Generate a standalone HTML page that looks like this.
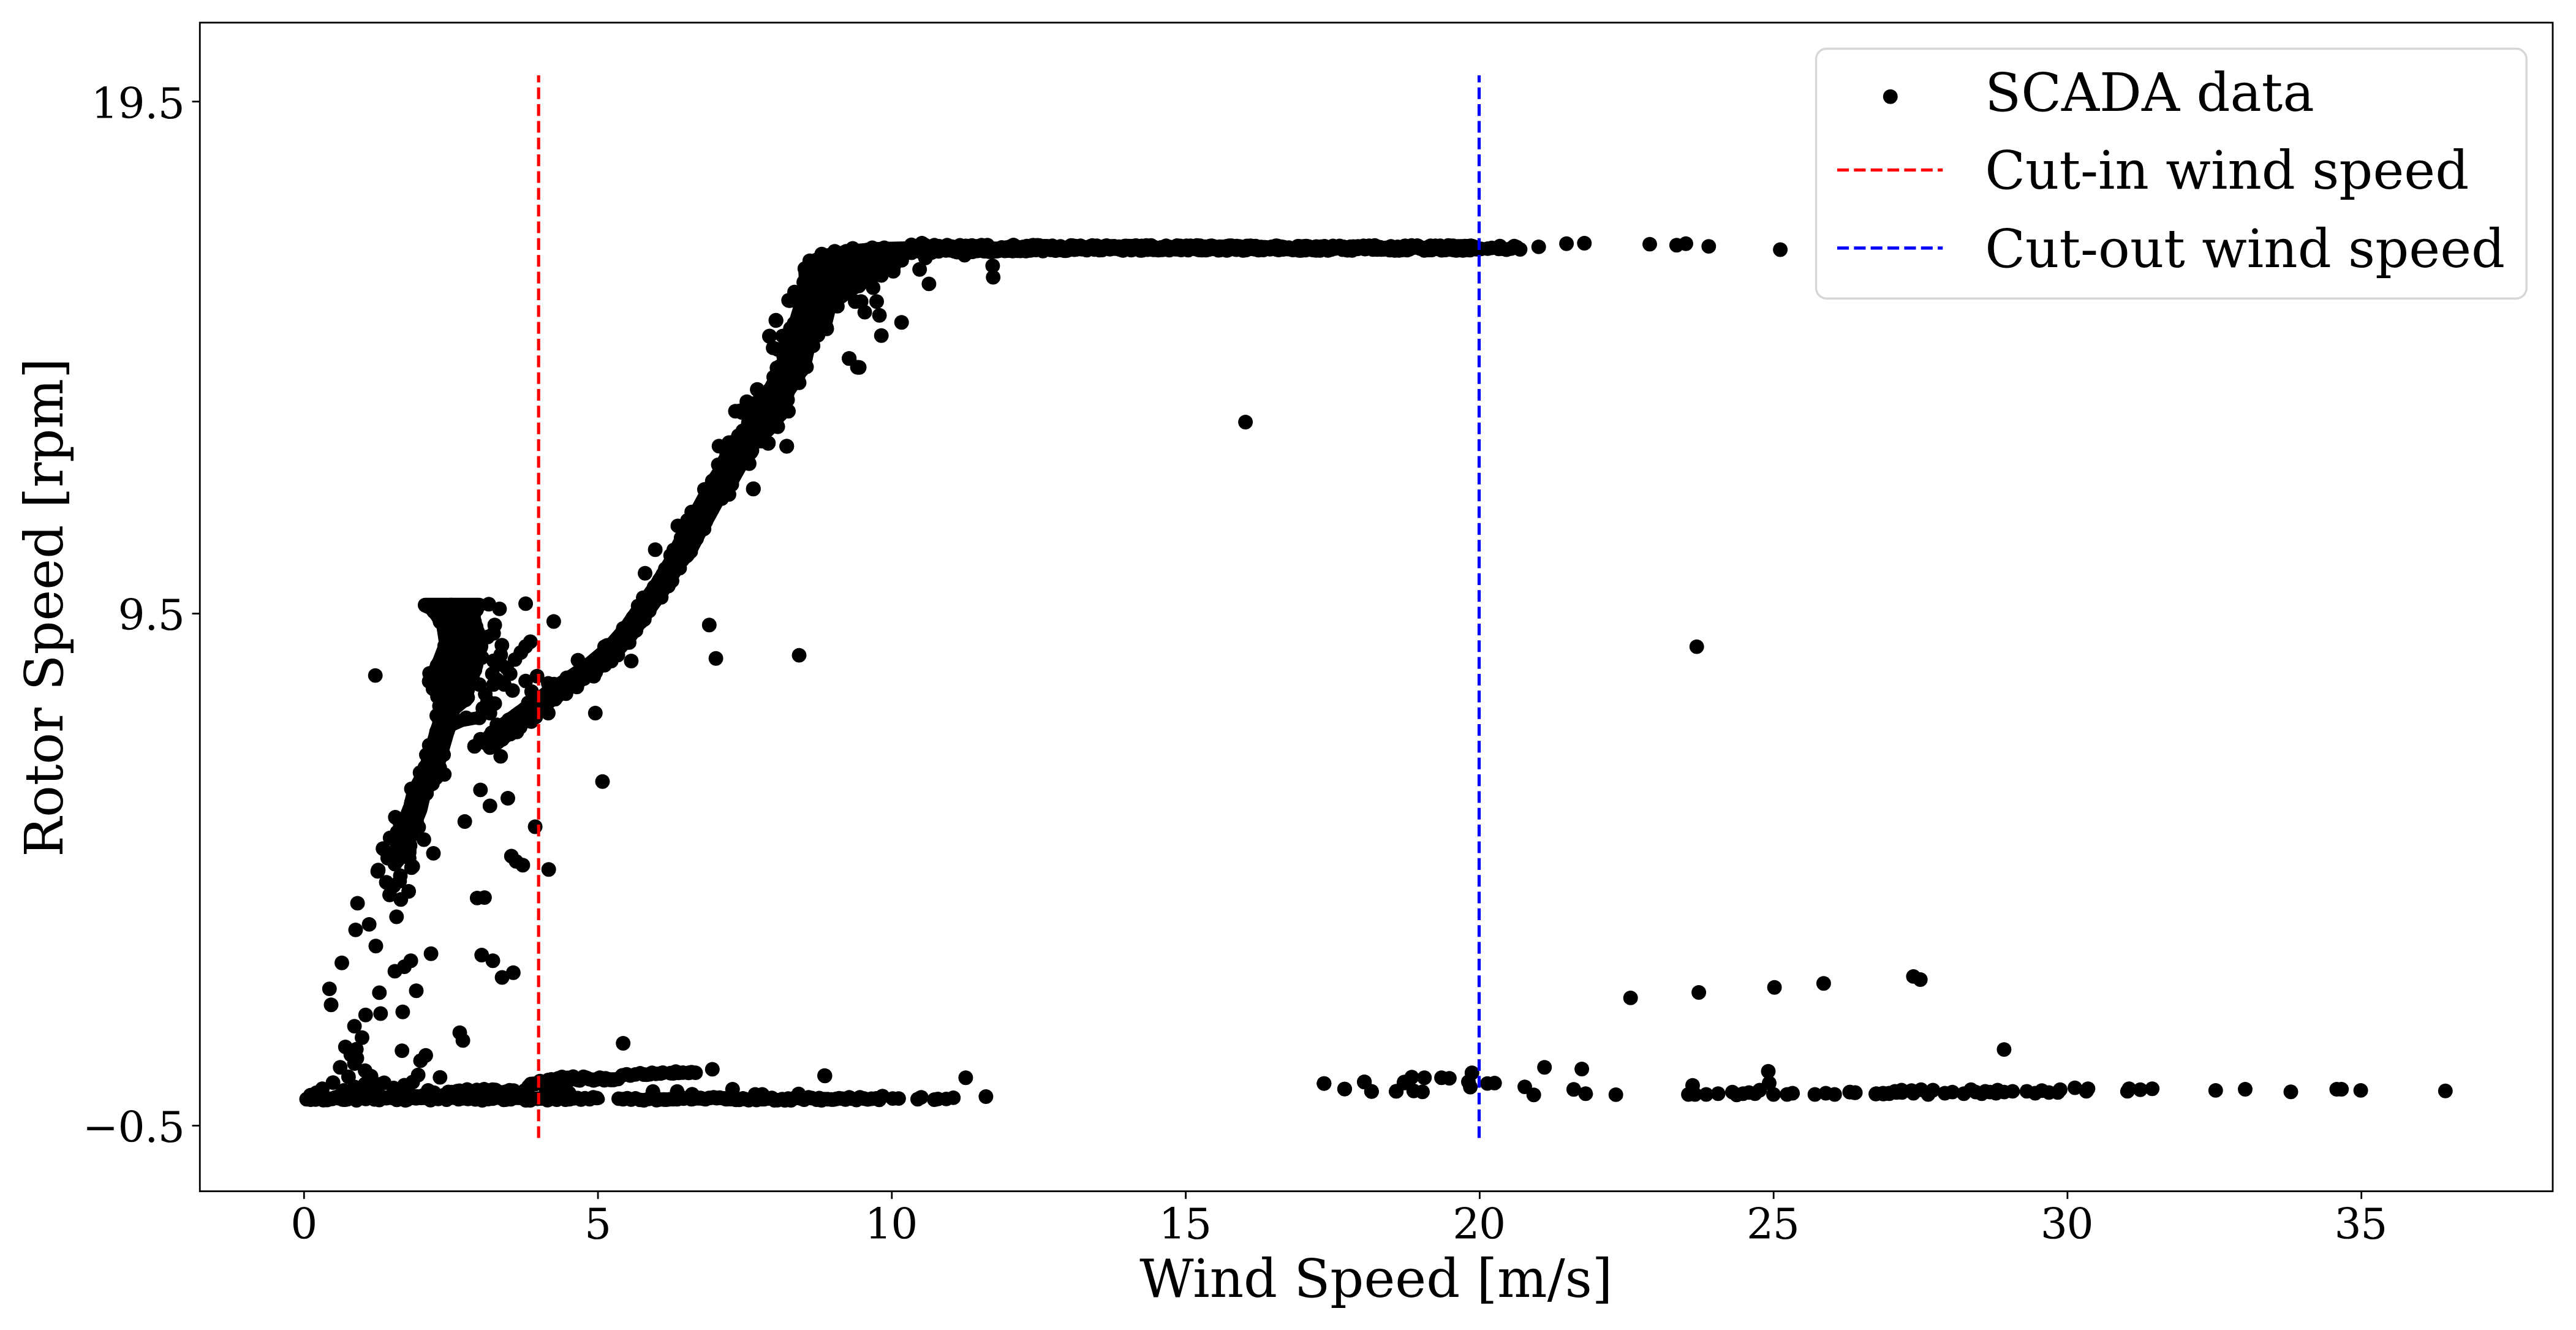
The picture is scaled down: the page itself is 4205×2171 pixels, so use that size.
<!DOCTYPE html>
<html><head><meta charset="utf-8"><title>Rotor speed vs wind speed</title>
<style>html,body{margin:0;padding:0;background:#fff}svg{display:block}text{font-family:"DejaVu Serif","Liberation Serif",serif;fill:#000}</style></head>
<body>
<svg width="4205" height="2171" viewBox="0 0 4205 2171">
<rect width="4205" height="2171" fill="#fff"/>
<g fill="#000" stroke="#000" stroke-linejoin="round" stroke-linecap="round">
<path d="M688.0 982.3 L784.3 982.3 L785.1 1016.5 L791.3 1028.1 L796.0 1055.3 L788.2 1090.2 L778.5 1117.4 L768.8 1148.4 L745.5 1167.9 L712.5 1181.4 L708.6 1148.4 L695.0 1117.4 L691.9 1105.7 L706.7 1074.7 L716.4 1049.5 L712.5 1024.2 L700.9 1006.8 L685.3 991.2Z" stroke="none"/>
<path d="M693.9 987.7 L782.4 987.7" fill="none" stroke-width="23.9"/>
<path d="M730.7 1167.9 L721.4 1195.0 L712.5 1226.1 L702.0 1261.0 L683.4 1296.0 L678.0 1319.3 L668.6 1342.5 L657.0 1377.5" fill="none" stroke-width="40.0"/>
<path d="M733.9 1185.3 L753.3 1176.4 L782.4 1171.0" fill="none" stroke-width="21.0"/>
<path d="M805.7 1206.7 L827.0 1189.2 L850.3 1171.7 L875.5 1154.3" fill="none" stroke-width="40.0"/>
<path d="M875.5 1154.3 L900.8 1132.9 L928.0 1115.5 L962.9 1092.2 L997.8 1063.0 L1025.0 1032.0 L1052.2 993.2 L1077.4 958.2 L1098.8 923.3 L1112.3 900.0" fill="none" stroke-width="37.0"/>
<path d="M1114.3 899.9 L1132.1 865.4 L1149.6 834.3 L1172.9 791.6 L1202.0 747.0 L1231.9 698.4 L1257.9 655.7 L1279.3 616.9 L1296.0 578.1 L1308.4 547.0" fill="none" stroke-width="44.0"/>
<path d="M1213.6 692.1 L1235.7 655.2 L1260.2 622.2 L1273.8 571.7 L1286.2 529.0 L1297.8 490.2 L1304.0 461.1 L1303.3 444.4 L1313.7 427.3 L1326.6 414.1 L1349.1 405.6 L1386.3 399.0 L1432.9 395.1 L1510.6 393.2 L1510.6 418.8 L1479.5 423.4 L1467.9 436.6 L1440.7 449.5 L1423.2 465.0 L1394.1 483.2 L1376.6 496.0 L1363.0 511.6 L1357.2 534.9 L1345.6 546.5 L1330.0 571.7 L1324.2 597.0 L1312.6 620.3 L1297.0 643.6 L1291.2 666.8 L1273.8 697.9 L1238.8 732.8 L1219.4 763.9 L1200.0 798.8 L1176.7 815.9 L1153.4 815.9 L1176.7 742.5Z" stroke="none"/>
<path d="M1510.0 404.8 L2400.0 404.8" fill="none" stroke-width="21.0"/>
<path d="M2400.0 404.8 L2470.0 406.0" fill="none" stroke-width="19.0"/>
<path d="M502.0 1793.9 L978.0 1793.9" fill="none" stroke-width="19.0"/>
<path d="M1012.0 1793.9 L1436.0 1793.9" fill="none" stroke-width="19.0"/>
<path d="M730.0 1781.8 L788.2 1779.5 L842.5 1781.8" fill="none" stroke-width="17.0"/>
<path d="M547.5 1788.8 L730.0 1788.8" fill="none" stroke-width="17.0"/>
<path d="M854.2 1778.7 L877.5 1766.3 L920.2 1760.5 L1009.5 1759.7" fill="none" stroke-width="19.0"/>
<path d="M1009.5 1757.8 L1021.1 1755.4 L1087.1 1750.0 L1137.6 1751.6" fill="none" stroke-width="17.0"/>
</g>
<g fill="#000">
<circle cx="612.7" cy="1102.6" r="11.95"/><circle cx="858.1" cy="985.4" r="11.95"/><circle cx="903.9" cy="1014.5" r="11.95"/><circle cx="1157.8" cy="1020.3" r="11.95"/><circle cx="1168.6" cy="1074.7" r="11.95"/><circle cx="1304.5" cy="1069.6" r="11.95"/><circle cx="1030.4" cy="1079.0" r="11.95"/><circle cx="971.8" cy="1164.0" r="11.95"/><circle cx="983.5" cy="1275.8" r="11.95"/><circle cx="817.3" cy="1234.6" r="11.95"/><circle cx="784.3" cy="1289.4" r="11.95"/><circle cx="829.0" cy="1303.0" r="11.95"/><circle cx="799.8" cy="1315.4" r="11.95"/><circle cx="758.7" cy="1341.0" r="11.95"/><circle cx="873.6" cy="1349.5" r="11.95"/><circle cx="1053.0" cy="935.7" r="11.95"/><circle cx="645.3" cy="1334.0" r="11.95"/><circle cx="683.4" cy="1350.3" r="11.95"/><circle cx="691.9" cy="1370.5" r="11.95"/><circle cx="725.3" cy="1264.1" r="11.95"/><circle cx="724.1" cy="1231.9" r="11.95"/><circle cx="943.5" cy="1077.8" r="11.95"/><circle cx="895.0" cy="1164.0" r="11.95"/><circle cx="895.0" cy="1115.5" r="11.95"/><circle cx="625.2" cy="1385.2" r="11.95"/><circle cx="636.8" cy="1367.8" r="11.95"/><circle cx="648.4" cy="1358.1" r="11.95"/><circle cx="658.2" cy="1375.5" r="11.95"/><circle cx="667.9" cy="1387.2" r="11.95"/><circle cx="640.7" cy="1393.0" r="11.95"/><circle cx="652.3" cy="1400.8" r="11.95"/><circle cx="667.9" cy="1400.8" r="11.95"/><circle cx="673.7" cy="1414.4" r="11.95"/><circle cx="644.6" cy="1410.5" r="11.95"/><circle cx="632.9" cy="1400.8" r="11.95"/><circle cx="656.2" cy="1362.0" r="11.95"/><circle cx="648.4" cy="1381.4" r="11.95"/><circle cx="617.4" cy="1420.2" r="11.95"/><circle cx="797.9" cy="986.2" r="11.95"/><circle cx="815.4" cy="993.9" r="11.95"/><circle cx="807.6" cy="1020.3" r="11.95"/><circle cx="805.7" cy="1033.9" r="11.95"/><circle cx="796.0" cy="1039.8" r="11.95"/><circle cx="819.3" cy="1053.3" r="11.95"/><circle cx="817.3" cy="1068.9" r="11.95"/><circle cx="805.7" cy="1078.6" r="11.95"/><circle cx="803.7" cy="1099.9" r="11.95"/><circle cx="832.8" cy="1099.9" r="11.95"/><circle cx="805.7" cy="1117.4" r="11.95"/><circle cx="823.1" cy="1117.4" r="11.95"/><circle cx="836.7" cy="1127.1" r="11.95"/><circle cx="850.3" cy="1065.0" r="11.95"/><circle cx="840.6" cy="1076.6" r="11.95"/><circle cx="827.0" cy="1090.2" r="11.95"/><circle cx="865.8" cy="1047.5" r="11.95"/><circle cx="858.1" cy="1111.6" r="11.95"/><circle cx="876.7" cy="1103.8" r="11.95"/><circle cx="867.8" cy="1129.0" r="11.95"/><circle cx="807.6" cy="1148.4" r="11.95"/><circle cx="796.0" cy="1144.6" r="11.95"/><circle cx="799.8" cy="1164.0" r="11.95"/><circle cx="782.4" cy="1171.7" r="11.95"/><circle cx="761.0" cy="1171.7" r="11.95"/><circle cx="745.5" cy="1177.6" r="11.95"/><circle cx="782.4" cy="1117.4" r="11.95"/><circle cx="792.1" cy="1132.9" r="11.95"/><circle cx="788.2" cy="1156.2" r="11.95"/><circle cx="817.3" cy="1084.4" r="11.95"/><circle cx="811.5" cy="1109.6" r="11.95"/><circle cx="858.1" cy="1055.3" r="11.95"/><circle cx="774.6" cy="1218.3" r="11.95"/><circle cx="784.3" cy="1206.7" r="11.95"/><circle cx="799.8" cy="1220.3" r="11.95"/><circle cx="792.1" cy="1212.5" r="11.95"/><circle cx="698.1" cy="989.8" r="11.95"/><circle cx="707.6" cy="993.7" r="11.95"/><circle cx="716.8" cy="989.0" r="11.95"/><circle cx="736.3" cy="987.7" r="11.95"/><circle cx="751.7" cy="992.9" r="11.95"/><circle cx="764.2" cy="988.8" r="11.95"/><circle cx="777.8" cy="995.6" r="11.95"/><circle cx="773.0" cy="990.5" r="11.95"/><circle cx="774.6" cy="1014.6" r="11.95"/><circle cx="777.3" cy="1023.1" r="11.95"/><circle cx="779.3" cy="1037.2" r="11.95"/><circle cx="785.2" cy="1055.1" r="11.95"/><circle cx="784.4" cy="1057.1" r="11.95"/><circle cx="786.7" cy="1073.2" r="11.95"/><circle cx="775.2" cy="1093.8" r="11.95"/><circle cx="765.6" cy="1111.2" r="11.95"/><circle cx="766.9" cy="1117.4" r="11.95"/><circle cx="763.4" cy="1138.6" r="11.95"/><circle cx="759.9" cy="1142.5" r="11.95"/><circle cx="738.9" cy="1154.9" r="11.95"/><circle cx="733.0" cy="1160.3" r="11.95"/><circle cx="713.0" cy="1168.2" r="11.95"/><circle cx="717.1" cy="1175.5" r="11.95"/><circle cx="717.4" cy="1152.5" r="11.95"/><circle cx="714.1" cy="1137.0" r="11.95"/><circle cx="706.9" cy="1124.4" r="11.95"/><circle cx="700.6" cy="1112.2" r="11.95"/><circle cx="701.2" cy="1099.1" r="11.95"/><circle cx="713.6" cy="1086.1" r="11.95"/><circle cx="721.0" cy="1078.2" r="11.95"/><circle cx="725.9" cy="1054.3" r="11.95"/><circle cx="728.1" cy="1041.0" r="11.95"/><circle cx="718.3" cy="1015.0" r="11.95"/><circle cx="708.2" cy="998.2" r="11.95"/><circle cx="695.1" cy="988.1" r="11.95"/><circle cx="722.2" cy="1173.4" r="11.95"/><circle cx="716.5" cy="1187.9" r="11.95"/><circle cx="712.6" cy="1194.5" r="11.95"/><circle cx="700.7" cy="1216.4" r="11.95"/><circle cx="696.0" cy="1232.1" r="11.95"/><circle cx="693.8" cy="1252.2" r="11.95"/><circle cx="685.7" cy="1261.3" r="11.95"/><circle cx="689.1" cy="1271.7" r="11.95"/><circle cx="671.5" cy="1287.8" r="11.95"/><circle cx="671.6" cy="1310.3" r="11.95"/><circle cx="660.3" cy="1337.8" r="11.95"/><circle cx="653.0" cy="1343.4" r="11.95"/><circle cx="648.8" cy="1373.9" r="11.95"/><circle cx="743.1" cy="1176.2" r="11.95"/><circle cx="729.9" cy="1193.9" r="11.95"/><circle cx="724.5" cy="1208.6" r="11.95"/><circle cx="719.0" cy="1225.7" r="11.95"/><circle cx="717.7" cy="1235.4" r="11.95"/><circle cx="717.7" cy="1253.3" r="11.95"/><circle cx="711.8" cy="1269.8" r="11.95"/><circle cx="705.9" cy="1279.2" r="11.95"/><circle cx="696.2" cy="1295.3" r="11.95"/><circle cx="689.1" cy="1302.8" r="11.95"/><circle cx="680.3" cy="1342.9" r="11.95"/><circle cx="676.9" cy="1349.6" r="11.95"/><circle cx="669.4" cy="1380.2" r="11.95"/><circle cx="820.0" cy="1206.8" r="11.95"/><circle cx="833.0" cy="1198.2" r="11.95"/><circle cx="843.7" cy="1194.7" r="11.95"/><circle cx="849.1" cy="1187.0" r="11.95"/><circle cx="867.3" cy="1177.8" r="11.95"/><circle cx="874.5" cy="1170.3" r="11.95"/><circle cx="802.9" cy="1196.0" r="11.95"/><circle cx="811.1" cy="1183.2" r="11.95"/><circle cx="830.5" cy="1175.0" r="11.95"/><circle cx="842.5" cy="1168.2" r="11.95"/><circle cx="856.3" cy="1157.4" r="11.95"/><circle cx="862.5" cy="1147.3" r="11.95"/><circle cx="879.9" cy="1158.3" r="11.95"/><circle cx="906.1" cy="1141.2" r="11.95"/><circle cx="909.9" cy="1136.4" r="11.95"/><circle cx="923.8" cy="1132.4" r="11.95"/><circle cx="941.6" cy="1121.3" r="11.95"/><circle cx="953.5" cy="1107.5" r="11.95"/><circle cx="969.3" cy="1103.9" r="11.95"/><circle cx="972.4" cy="1097.3" r="11.95"/><circle cx="986.9" cy="1085.9" r="11.95"/><circle cx="997.8" cy="1079.1" r="11.95"/><circle cx="1008.5" cy="1069.3" r="11.95"/><circle cx="1016.8" cy="1051.4" r="11.95"/><circle cx="1027.0" cy="1048.9" r="11.95"/><circle cx="1038.2" cy="1029.1" r="11.95"/><circle cx="1046.3" cy="1015.1" r="11.95"/><circle cx="1051.8" cy="1011.1" r="11.95"/><circle cx="1059.9" cy="997.0" r="11.95"/><circle cx="1070.3" cy="979.1" r="11.95"/><circle cx="1079.4" cy="975.1" r="11.95"/><circle cx="1091.0" cy="956.5" r="11.95"/><circle cx="1097.0" cy="948.1" r="11.95"/><circle cx="1103.2" cy="929.8" r="11.95"/><circle cx="1109.4" cy="927.4" r="11.95"/><circle cx="1113.9" cy="914.1" r="11.95"/><circle cx="880.5" cy="1140.1" r="11.95"/><circle cx="894.5" cy="1129.6" r="11.95"/><circle cx="904.5" cy="1116.7" r="11.95"/><circle cx="921.8" cy="1113.8" r="11.95"/><circle cx="925.2" cy="1106.4" r="11.95"/><circle cx="947.1" cy="1095.5" r="11.95"/><circle cx="958.2" cy="1088.9" r="11.95"/><circle cx="960.2" cy="1085.3" r="11.95"/><circle cx="980.9" cy="1069.5" r="11.95"/><circle cx="986.9" cy="1055.8" r="11.95"/><circle cx="991.1" cy="1053.5" r="11.95"/><circle cx="1003.2" cy="1048.0" r="11.95"/><circle cx="1017.4" cy="1025.6" r="11.95"/><circle cx="1024.0" cy="1022.5" r="11.95"/><circle cx="1033.2" cy="1008.2" r="11.95"/><circle cx="1041.7" cy="989.1" r="11.95"/><circle cx="1050.0" cy="975.7" r="11.95"/><circle cx="1058.4" cy="973.6" r="11.95"/><circle cx="1067.8" cy="958.1" r="11.95"/><circle cx="1076.3" cy="946.9" r="11.95"/><circle cx="1082.3" cy="937.5" r="11.95"/><circle cx="1086.0" cy="928.8" r="11.95"/><circle cx="1094.7" cy="906.8" r="11.95"/><circle cx="1099.8" cy="897.8" r="11.95"/><circle cx="1127.4" cy="900.4" r="11.95"/><circle cx="1137.0" cy="879.4" r="11.95"/><circle cx="1148.2" cy="862.7" r="11.95"/><circle cx="1152.0" cy="851.8" r="11.95"/><circle cx="1160.1" cy="830.2" r="11.95"/><circle cx="1178.2" cy="813.8" r="11.95"/><circle cx="1174.1" cy="805.3" r="11.95"/><circle cx="1186.2" cy="800.0" r="11.95"/><circle cx="1194.9" cy="774.0" r="11.95"/><circle cx="1206.3" cy="756.2" r="11.95"/><circle cx="1212.1" cy="748.1" r="11.95"/><circle cx="1225.8" cy="738.3" r="11.95"/><circle cx="1223.5" cy="725.6" r="11.95"/><circle cx="1242.0" cy="714.8" r="11.95"/><circle cx="1245.8" cy="702.7" r="11.95"/><circle cx="1256.5" cy="692.1" r="11.95"/><circle cx="1260.8" cy="676.2" r="11.95"/><circle cx="1274.3" cy="647.9" r="11.95"/><circle cx="1277.4" cy="640.4" r="11.95"/><circle cx="1281.9" cy="627.9" r="11.95"/><circle cx="1297.9" cy="612.1" r="11.95"/><circle cx="1292.9" cy="604.8" r="11.95"/><circle cx="1300.7" cy="585.9" r="11.95"/><circle cx="1315.6" cy="572.3" r="11.95"/><circle cx="1312.3" cy="564.5" r="11.95"/><circle cx="1111.8" cy="878.2" r="11.95"/><circle cx="1117.2" cy="874.1" r="11.95"/><circle cx="1122.3" cy="849.5" r="11.95"/><circle cx="1129.1" cy="835.8" r="11.95"/><circle cx="1147.5" cy="823.5" r="11.95"/><circle cx="1149.9" cy="798.9" r="11.95"/><circle cx="1160.0" cy="800.2" r="11.95"/><circle cx="1162.8" cy="784.9" r="11.95"/><circle cx="1175.4" cy="759.5" r="11.95"/><circle cx="1183.2" cy="751.2" r="11.95"/><circle cx="1200.8" cy="732.9" r="11.95"/><circle cx="1204.0" cy="718.8" r="11.95"/><circle cx="1205.5" cy="711.1" r="11.95"/><circle cx="1219.2" cy="704.2" r="11.95"/><circle cx="1221.7" cy="689.7" r="11.95"/><circle cx="1228.3" cy="671.8" r="11.95"/><circle cx="1237.8" cy="655.3" r="11.95"/><circle cx="1257.6" cy="638.8" r="11.95"/><circle cx="1256.1" cy="636.7" r="11.95"/><circle cx="1263.0" cy="615.4" r="11.95"/><circle cx="1268.3" cy="600.5" r="11.95"/><circle cx="1274.8" cy="596.8" r="11.95"/><circle cx="1286.8" cy="577.6" r="11.95"/><circle cx="1293.2" cy="560.7" r="11.95"/><circle cx="1294.8" cy="549.4" r="11.95"/><circle cx="1266.5" cy="522.6" r="11.95"/><circle cx="1256.0" cy="549.0" r="11.95"/><circle cx="1386.0" cy="585.1" r="11.95"/><circle cx="1399.6" cy="599.5" r="11.95"/><circle cx="1236.6" cy="636.3" r="11.95"/><circle cx="1200.5" cy="671.3" r="11.95"/><circle cx="1211.3" cy="673.2" r="11.95"/><circle cx="1284.3" cy="728.3" r="11.95"/><circle cx="1173.7" cy="728.3" r="11.95"/><circle cx="1190.0" cy="722.5" r="11.95"/><circle cx="1229.6" cy="798.2" r="11.95"/><circle cx="1069.6" cy="897.2" r="11.95"/><circle cx="1106.5" cy="858.4" r="11.95"/><circle cx="1172.5" cy="758.6" r="11.95"/><circle cx="1219.1" cy="655.7" r="11.95"/><circle cx="1289.0" cy="490.8" r="11.95"/><circle cx="1269.6" cy="570.3" r="11.95"/><circle cx="1304.5" cy="624.7" r="11.95"/><circle cx="1287.0" cy="671.3" r="11.95"/><circle cx="1269.6" cy="696.5" r="11.95"/><circle cx="1254.0" cy="723.7" r="11.95"/><circle cx="1223.0" cy="756.7" r="11.95"/><circle cx="1190.0" cy="807.1" r="11.95"/><circle cx="1149.2" cy="863.4" r="11.95"/><circle cx="1221.0" cy="695.0" r="11.95"/><circle cx="1235.2" cy="676.3" r="11.95"/><circle cx="1241.5" cy="668.8" r="11.95"/><circle cx="1248.2" cy="659.4" r="11.95"/><circle cx="1261.7" cy="634.4" r="11.95"/><circle cx="1267.6" cy="622.3" r="11.95"/><circle cx="1279.9" cy="592.5" r="11.95"/><circle cx="1279.3" cy="581.6" r="11.95"/><circle cx="1280.4" cy="569.9" r="11.95"/><circle cx="1285.7" cy="557.5" r="11.95"/><circle cx="1290.3" cy="536.2" r="11.95"/><circle cx="1296.3" cy="527.9" r="11.95"/><circle cx="1305.0" cy="495.5" r="11.95"/><circle cx="1309.7" cy="492.1" r="11.95"/><circle cx="1308.2" cy="476.4" r="11.95"/><circle cx="1312.0" cy="460.6" r="11.95"/><circle cx="1313.8" cy="438.5" r="11.95"/><circle cx="1321.8" cy="425.8" r="11.95"/><circle cx="1341.4" cy="414.8" r="11.95"/><circle cx="1362.6" cy="410.2" r="11.95"/><circle cx="1381.2" cy="410.1" r="11.95"/><circle cx="1391.9" cy="405.4" r="11.95"/><circle cx="1415.5" cy="408.3" r="11.95"/><circle cx="1423.9" cy="404.5" r="11.95"/><circle cx="1443.4" cy="404.4" r="11.95"/><circle cx="1459.2" cy="407.6" r="11.95"/><circle cx="1478.2" cy="407.0" r="11.95"/><circle cx="1487.8" cy="399.6" r="11.95"/><circle cx="1505.3" cy="399.9" r="11.95"/><circle cx="1504.9" cy="396.9" r="11.95"/><circle cx="1508.5" cy="406.3" r="11.95"/><circle cx="1488.1" cy="412.5" r="11.95"/><circle cx="1471.9" cy="424.9" r="11.95"/><circle cx="1458.9" cy="434.2" r="11.95"/><circle cx="1441.3" cy="442.1" r="11.95"/><circle cx="1422.4" cy="454.3" r="11.95"/><circle cx="1405.9" cy="459.7" r="11.95"/><circle cx="1401.8" cy="466.9" r="11.95"/><circle cx="1380.9" cy="476.4" r="11.95"/><circle cx="1358.9" cy="496.2" r="11.95"/><circle cx="1346.6" cy="524.2" r="11.95"/><circle cx="1348.7" cy="534.0" r="11.95"/><circle cx="1335.3" cy="547.1" r="11.95"/><circle cx="1327.2" cy="564.4" r="11.95"/><circle cx="1314.5" cy="585.6" r="11.95"/><circle cx="1309.0" cy="603.7" r="11.95"/><circle cx="1301.5" cy="624.3" r="11.95"/><circle cx="1285.6" cy="652.8" r="11.95"/><circle cx="1274.2" cy="676.2" r="11.95"/><circle cx="1270.3" cy="677.4" r="11.95"/><circle cx="1255.2" cy="698.8" r="11.95"/><circle cx="1243.2" cy="709.6" r="11.95"/><circle cx="1243.2" cy="720.1" r="11.95"/><circle cx="1227.4" cy="735.3" r="11.95"/><circle cx="1221.1" cy="744.4" r="11.95"/><circle cx="1206.5" cy="759.3" r="11.95"/><circle cx="1194.6" cy="790.7" r="11.95"/><circle cx="1185.9" cy="800.3" r="11.95"/><circle cx="1175.2" cy="805.8" r="11.95"/><circle cx="1169.9" cy="802.3" r="11.95"/><circle cx="1161.0" cy="816.7" r="11.95"/><circle cx="1169.4" cy="799.0" r="11.95"/><circle cx="1172.9" cy="776.8" r="11.95"/><circle cx="1174.9" cy="773.4" r="11.95"/><circle cx="1188.8" cy="746.5" r="11.95"/><circle cx="1186.2" cy="741.7" r="11.95"/><circle cx="1199.2" cy="720.5" r="11.95"/><circle cx="1210.0" cy="714.5" r="11.95"/><circle cx="1212.7" cy="703.3" r="11.95"/><circle cx="1266.8" cy="523.2" r="11.95"/><circle cx="1256.3" cy="548.4" r="11.95"/><circle cx="1287.3" cy="490.2" r="11.95"/><circle cx="1236.1" cy="635.8" r="11.95"/><circle cx="1227.2" cy="659.1" r="11.95"/><circle cx="1207.8" cy="670.7" r="11.95"/><circle cx="1284.2" cy="728.6" r="11.95"/><circle cx="1229.9" cy="797.7" r="11.95"/><circle cx="1386.3" cy="585.3" r="11.95"/><circle cx="1402.6" cy="599.7" r="11.95"/><circle cx="1438.7" cy="547.7" r="11.95"/><circle cx="1471.7" cy="526.3" r="11.95"/><circle cx="1435.6" cy="514.7" r="11.95"/><circle cx="1411.6" cy="509.6" r="11.95"/><circle cx="1431.0" cy="492.2" r="11.95"/><circle cx="1405.7" cy="492.2" r="11.95"/><circle cx="1396.0" cy="492.2" r="11.95"/><circle cx="1425.2" cy="469.6" r="11.95"/><circle cx="1501.2" cy="439.8" r="11.95"/><circle cx="1516.4" cy="463.4" r="11.95"/><circle cx="1620.4" cy="433.9" r="11.95"/><circle cx="1621.2" cy="452.6" r="11.95"/><circle cx="2033.1" cy="689.0" r="11.95"/><circle cx="1438.7" cy="449.5" r="11.95"/><circle cx="1458.2" cy="442.9" r="11.95"/><circle cx="1574.6" cy="416.5" r="11.95"/><circle cx="1510.6" cy="421.1" r="11.95"/><circle cx="1366.9" cy="499.9" r="11.95"/><circle cx="1297.0" cy="476.6" r="11.95"/><circle cx="1277.6" cy="548.4" r="11.95"/><circle cx="1262.1" cy="567.9" r="11.95"/><circle cx="1349.5" cy="536.8" r="11.95"/><circle cx="1316.5" cy="598.9" r="11.95"/><circle cx="1302.9" cy="622.2" r="11.95"/><circle cx="1254.3" cy="723.1" r="11.95"/><circle cx="1491.6" cy="406.6" r="11.95"/><circle cx="1493.9" cy="405.4" r="11.95"/><circle cx="1495.6" cy="407.0" r="11.95"/><circle cx="1496.7" cy="406.0" r="11.95"/><circle cx="1498.6" cy="409.7" r="11.95"/><circle cx="1499.5" cy="403.2" r="11.95"/><circle cx="1500.5" cy="409.9" r="11.95"/><circle cx="1502.5" cy="399.7" r="11.95"/><circle cx="1505.0" cy="412.0" r="11.95"/><circle cx="1506.9" cy="407.3" r="11.95"/><circle cx="1507.9" cy="399.3" r="11.95"/><circle cx="1509.6" cy="399.9" r="11.95"/><circle cx="1510.8" cy="402.4" r="11.95"/><circle cx="1511.6" cy="405.3" r="11.95"/><circle cx="1513.2" cy="410.3" r="11.95"/><circle cx="1514.8" cy="407.6" r="11.95"/><circle cx="1516.5" cy="407.9" r="11.95"/><circle cx="1518.1" cy="402.8" r="11.95"/><circle cx="1520.6" cy="412.2" r="11.95"/><circle cx="1522.8" cy="408.4" r="11.95"/><circle cx="1524.1" cy="402.2" r="11.95"/><circle cx="1525.4" cy="400.1" r="11.95"/><circle cx="1527.5" cy="404.4" r="11.95"/><circle cx="1529.8" cy="404.2" r="11.95"/><circle cx="1532.2" cy="410.2" r="11.95"/><circle cx="1533.0" cy="402.0" r="11.95"/><circle cx="1535.3" cy="405.3" r="11.95"/><circle cx="1537.8" cy="404.4" r="11.95"/><circle cx="1538.7" cy="407.3" r="11.95"/><circle cx="1540.8" cy="402.7" r="11.95"/><circle cx="1541.8" cy="403.5" r="11.95"/><circle cx="1544.2" cy="408.9" r="11.95"/><circle cx="1545.2" cy="402.4" r="11.95"/><circle cx="1546.2" cy="400.1" r="11.95"/><circle cx="1548.4" cy="401.6" r="11.95"/><circle cx="1550.1" cy="405.0" r="11.95"/><circle cx="1551.2" cy="408.5" r="11.95"/><circle cx="1552.3" cy="407.4" r="11.95"/><circle cx="1553.3" cy="404.6" r="11.95"/><circle cx="1554.4" cy="402.8" r="11.95"/><circle cx="1556.9" cy="409.4" r="11.95"/><circle cx="1558.2" cy="410.4" r="11.95"/><circle cx="1559.3" cy="404.3" r="11.95"/><circle cx="1561.6" cy="407.3" r="11.95"/><circle cx="1562.6" cy="411.6" r="11.95"/><circle cx="1563.7" cy="402.6" r="11.95"/><circle cx="1565.8" cy="403.5" r="11.95"/><circle cx="1567.1" cy="400.4" r="11.95"/><circle cx="1568.1" cy="406.6" r="11.95"/><circle cx="1569.3" cy="406.8" r="11.95"/><circle cx="1570.7" cy="405.0" r="11.95"/><circle cx="1573.2" cy="405.4" r="11.95"/><circle cx="1575.0" cy="410.0" r="11.95"/><circle cx="1576.1" cy="401.4" r="11.95"/><circle cx="1578.4" cy="409.4" r="11.95"/><circle cx="1579.6" cy="401.8" r="11.95"/><circle cx="1581.7" cy="410.8" r="11.95"/><circle cx="1582.8" cy="410.9" r="11.95"/><circle cx="1585.1" cy="406.8" r="11.95"/><circle cx="1586.6" cy="400.8" r="11.95"/><circle cx="1587.5" cy="411.0" r="11.95"/><circle cx="1588.7" cy="407.9" r="11.95"/><circle cx="1589.9" cy="409.3" r="11.95"/><circle cx="1591.8" cy="403.1" r="11.95"/><circle cx="1592.9" cy="408.1" r="11.95"/><circle cx="1593.8" cy="402.3" r="11.95"/><circle cx="1595.5" cy="409.6" r="11.95"/><circle cx="1597.4" cy="402.9" r="11.95"/><circle cx="1599.7" cy="402.0" r="11.95"/><circle cx="1600.6" cy="402.8" r="11.95"/><circle cx="1602.1" cy="400.3" r="11.95"/><circle cx="1603.2" cy="403.9" r="11.95"/><circle cx="1605.0" cy="401.2" r="11.95"/><circle cx="1606.4" cy="410.0" r="11.95"/><circle cx="1608.9" cy="407.2" r="11.95"/><circle cx="1610.8" cy="406.4" r="11.95"/><circle cx="1611.9" cy="400.1" r="11.95"/><circle cx="1612.7" cy="410.1" r="11.95"/><circle cx="1614.7" cy="410.7" r="11.95"/><circle cx="1615.5" cy="407.0" r="11.95"/><circle cx="1617.2" cy="408.0" r="11.95"/><circle cx="1618.5" cy="411.1" r="11.95"/><circle cx="1619.4" cy="405.9" r="11.95"/><circle cx="1621.5" cy="409.9" r="11.95"/><circle cx="1623.5" cy="407.7" r="11.95"/><circle cx="1625.7" cy="410.0" r="11.95"/><circle cx="1627.1" cy="407.4" r="11.95"/><circle cx="1629.4" cy="409.5" r="11.95"/><circle cx="1630.9" cy="408.6" r="11.95"/><circle cx="1633.2" cy="406.2" r="11.95"/><circle cx="1635.1" cy="404.0" r="11.95"/><circle cx="1636.8" cy="406.5" r="11.95"/><circle cx="1637.8" cy="406.9" r="11.95"/><circle cx="1640.3" cy="409.5" r="11.95"/><circle cx="1642.3" cy="404.1" r="11.95"/><circle cx="1644.4" cy="406.2" r="11.95"/><circle cx="1645.9" cy="409.0" r="11.95"/><circle cx="1646.9" cy="408.0" r="11.95"/><circle cx="1647.7" cy="406.4" r="11.95"/><circle cx="1649.3" cy="402.4" r="11.95"/><circle cx="1651.3" cy="405.3" r="11.95"/><circle cx="1653.2" cy="409.8" r="11.95"/><circle cx="1654.4" cy="400.0" r="11.95"/><circle cx="1655.7" cy="407.2" r="11.95"/><circle cx="1656.8" cy="401.7" r="11.95"/><circle cx="1659.2" cy="407.0" r="11.95"/><circle cx="1660.7" cy="409.4" r="11.95"/><circle cx="1662.1" cy="407.0" r="11.95"/><circle cx="1663.2" cy="404.5" r="11.95"/><circle cx="1665.4" cy="409.6" r="11.95"/><circle cx="1667.7" cy="404.0" r="11.95"/><circle cx="1669.5" cy="403.3" r="11.95"/><circle cx="1670.5" cy="405.2" r="11.95"/><circle cx="1672.7" cy="408.9" r="11.95"/><circle cx="1674.7" cy="409.9" r="11.95"/><circle cx="1676.0" cy="401.8" r="11.95"/><circle cx="1677.6" cy="402.9" r="11.95"/><circle cx="1678.7" cy="404.3" r="11.95"/><circle cx="1680.6" cy="405.1" r="11.95"/><circle cx="1681.9" cy="408.7" r="11.95"/><circle cx="1684.4" cy="404.7" r="11.95"/><circle cx="1685.3" cy="400.4" r="11.95"/><circle cx="1687.6" cy="400.5" r="11.95"/><circle cx="1689.6" cy="405.9" r="11.95"/><circle cx="1691.0" cy="408.1" r="11.95"/><circle cx="1691.8" cy="401.5" r="11.95"/><circle cx="1693.4" cy="400.4" r="11.95"/><circle cx="1695.6" cy="402.5" r="11.95"/><circle cx="1696.6" cy="400.6" r="11.95"/><circle cx="1698.5" cy="404.6" r="11.95"/><circle cx="1700.4" cy="406.7" r="11.95"/><circle cx="1702.5" cy="409.7" r="11.95"/><circle cx="1704.5" cy="402.2" r="11.95"/><circle cx="1706.1" cy="402.0" r="11.95"/><circle cx="1706.9" cy="404.8" r="11.95"/><circle cx="1708.9" cy="402.0" r="11.95"/><circle cx="1710.2" cy="403.6" r="11.95"/><circle cx="1712.2" cy="405.3" r="11.95"/><circle cx="1714.0" cy="407.6" r="11.95"/><circle cx="1715.5" cy="407.9" r="11.95"/><circle cx="1717.8" cy="401.1" r="11.95"/><circle cx="1720.2" cy="407.2" r="11.95"/><circle cx="1721.2" cy="404.6" r="11.95"/><circle cx="1723.1" cy="409.0" r="11.95"/><circle cx="1724.5" cy="405.7" r="11.95"/><circle cx="1726.8" cy="407.9" r="11.95"/><circle cx="1729.2" cy="404.7" r="11.95"/><circle cx="1731.2" cy="402.3" r="11.95"/><circle cx="1733.2" cy="408.0" r="11.95"/><circle cx="1735.1" cy="407.0" r="11.95"/><circle cx="1736.2" cy="408.7" r="11.95"/><circle cx="1738.7" cy="409.4" r="11.95"/><circle cx="1740.4" cy="407.7" r="11.95"/><circle cx="1741.8" cy="408.8" r="11.95"/><circle cx="1744.0" cy="403.6" r="11.95"/><circle cx="1745.0" cy="404.4" r="11.95"/><circle cx="1746.7" cy="407.4" r="11.95"/><circle cx="1748.3" cy="400.7" r="11.95"/><circle cx="1750.5" cy="401.0" r="11.95"/><circle cx="1752.7" cy="402.0" r="11.95"/><circle cx="1754.0" cy="407.5" r="11.95"/><circle cx="1755.1" cy="401.8" r="11.95"/><circle cx="1756.7" cy="406.9" r="11.95"/><circle cx="1759.0" cy="406.6" r="11.95"/><circle cx="1761.4" cy="404.9" r="11.95"/><circle cx="1763.8" cy="401.3" r="11.95"/><circle cx="1765.0" cy="405.2" r="11.95"/><circle cx="1766.3" cy="406.9" r="11.95"/><circle cx="1768.1" cy="405.1" r="11.95"/><circle cx="1770.4" cy="405.4" r="11.95"/><circle cx="1771.7" cy="403.9" r="11.95"/><circle cx="1773.9" cy="408.4" r="11.95"/><circle cx="1775.1" cy="407.9" r="11.95"/><circle cx="1777.5" cy="405.1" r="11.95"/><circle cx="1779.3" cy="402.3" r="11.95"/><circle cx="1781.0" cy="404.9" r="11.95"/><circle cx="1782.9" cy="400.8" r="11.95"/><circle cx="1785.3" cy="405.0" r="11.95"/><circle cx="1786.8" cy="407.4" r="11.95"/><circle cx="1788.5" cy="404.8" r="11.95"/><circle cx="1790.5" cy="401.2" r="11.95"/><circle cx="1792.2" cy="404.1" r="11.95"/><circle cx="1794.7" cy="408.3" r="11.95"/><circle cx="1795.9" cy="404.6" r="11.95"/><circle cx="1796.9" cy="404.3" r="11.95"/><circle cx="1799.1" cy="408.1" r="11.95"/><circle cx="1800.7" cy="403.3" r="11.95"/><circle cx="1801.9" cy="405.8" r="11.95"/><circle cx="1804.2" cy="401.8" r="11.95"/><circle cx="1806.4" cy="400.9" r="11.95"/><circle cx="1807.5" cy="402.6" r="11.95"/><circle cx="1809.5" cy="403.3" r="11.95"/><circle cx="1810.9" cy="405.8" r="11.95"/><circle cx="1811.8" cy="406.7" r="11.95"/><circle cx="1812.8" cy="404.9" r="11.95"/><circle cx="1814.1" cy="402.3" r="11.95"/><circle cx="1815.8" cy="404.3" r="11.95"/><circle cx="1817.2" cy="404.1" r="11.95"/><circle cx="1818.9" cy="402.0" r="11.95"/><circle cx="1820.1" cy="405.9" r="11.95"/><circle cx="1821.9" cy="405.0" r="11.95"/><circle cx="1824.2" cy="405.7" r="11.95"/><circle cx="1826.4" cy="402.6" r="11.95"/><circle cx="1828.5" cy="407.3" r="11.95"/><circle cx="1830.8" cy="403.3" r="11.95"/><circle cx="1832.2" cy="408.3" r="11.95"/><circle cx="1833.3" cy="408.9" r="11.95"/><circle cx="1835.7" cy="401.8" r="11.95"/><circle cx="1836.9" cy="406.7" r="11.95"/><circle cx="1838.1" cy="401.5" r="11.95"/><circle cx="1840.3" cy="404.2" r="11.95"/><circle cx="1842.5" cy="401.7" r="11.95"/><circle cx="1843.9" cy="406.3" r="11.95"/><circle cx="1844.8" cy="402.3" r="11.95"/><circle cx="1846.7" cy="408.2" r="11.95"/><circle cx="1849.2" cy="401.6" r="11.95"/><circle cx="1850.8" cy="406.9" r="11.95"/><circle cx="1852.5" cy="406.3" r="11.95"/><circle cx="1853.6" cy="401.3" r="11.95"/><circle cx="1854.6" cy="401.0" r="11.95"/><circle cx="1856.3" cy="404.9" r="11.95"/><circle cx="1858.1" cy="401.9" r="11.95"/><circle cx="1859.2" cy="402.4" r="11.95"/><circle cx="1861.4" cy="408.8" r="11.95"/><circle cx="1863.8" cy="401.5" r="11.95"/><circle cx="1864.7" cy="408.5" r="11.95"/><circle cx="1866.3" cy="407.0" r="11.95"/><circle cx="1867.7" cy="404.5" r="11.95"/><circle cx="1869.3" cy="404.2" r="11.95"/><circle cx="1871.2" cy="400.8" r="11.95"/><circle cx="1873.2" cy="407.6" r="11.95"/><circle cx="1874.3" cy="404.4" r="11.95"/><circle cx="1876.3" cy="404.0" r="11.95"/><circle cx="1877.5" cy="402.1" r="11.95"/><circle cx="1879.1" cy="400.8" r="11.95"/><circle cx="1881.4" cy="407.3" r="11.95"/><circle cx="1883.4" cy="407.8" r="11.95"/><circle cx="1885.3" cy="404.0" r="11.95"/><circle cx="1887.1" cy="404.8" r="11.95"/><circle cx="1889.6" cy="407.3" r="11.95"/><circle cx="1890.8" cy="408.2" r="11.95"/><circle cx="1892.9" cy="407.1" r="11.95"/><circle cx="1895.1" cy="404.0" r="11.95"/><circle cx="1897.4" cy="407.9" r="11.95"/><circle cx="1899.4" cy="407.0" r="11.95"/><circle cx="1901.5" cy="404.0" r="11.95"/><circle cx="1903.5" cy="401.3" r="11.95"/><circle cx="1904.9" cy="404.5" r="11.95"/><circle cx="1905.7" cy="403.6" r="11.95"/><circle cx="1907.6" cy="405.8" r="11.95"/><circle cx="1908.8" cy="408.4" r="11.95"/><circle cx="1910.7" cy="403.5" r="11.95"/><circle cx="1912.7" cy="405.4" r="11.95"/><circle cx="1914.4" cy="403.9" r="11.95"/><circle cx="1916.9" cy="406.0" r="11.95"/><circle cx="1918.9" cy="406.9" r="11.95"/><circle cx="1921.3" cy="400.9" r="11.95"/><circle cx="1923.2" cy="406.8" r="11.95"/><circle cx="1924.4" cy="404.0" r="11.95"/><circle cx="1925.3" cy="402.3" r="11.95"/><circle cx="1926.7" cy="401.5" r="11.95"/><circle cx="1928.0" cy="408.1" r="11.95"/><circle cx="1929.7" cy="404.9" r="11.95"/><circle cx="1932.1" cy="405.4" r="11.95"/><circle cx="1934.6" cy="405.9" r="11.95"/><circle cx="1936.8" cy="401.3" r="11.95"/><circle cx="1938.6" cy="406.9" r="11.95"/><circle cx="1939.5" cy="408.3" r="11.95"/><circle cx="1940.6" cy="404.6" r="11.95"/><circle cx="1941.7" cy="404.8" r="11.95"/><circle cx="1943.5" cy="401.2" r="11.95"/><circle cx="1945.9" cy="404.1" r="11.95"/><circle cx="1947.6" cy="405.6" r="11.95"/><circle cx="1949.0" cy="403.0" r="11.95"/><circle cx="1950.9" cy="405.3" r="11.95"/><circle cx="1952.2" cy="406.6" r="11.95"/><circle cx="1953.5" cy="400.8" r="11.95"/><circle cx="1954.7" cy="401.1" r="11.95"/><circle cx="1955.8" cy="406.9" r="11.95"/><circle cx="1957.3" cy="408.1" r="11.95"/><circle cx="1959.3" cy="401.1" r="11.95"/><circle cx="1961.8" cy="408.4" r="11.95"/><circle cx="1962.7" cy="408.1" r="11.95"/><circle cx="1964.3" cy="404.6" r="11.95"/><circle cx="1966.7" cy="402.7" r="11.95"/><circle cx="1968.4" cy="408.4" r="11.95"/><circle cx="1970.4" cy="404.5" r="11.95"/><circle cx="1972.9" cy="407.4" r="11.95"/><circle cx="1974.7" cy="401.6" r="11.95"/><circle cx="1976.6" cy="404.4" r="11.95"/><circle cx="1977.7" cy="401.1" r="11.95"/><circle cx="1979.4" cy="401.7" r="11.95"/><circle cx="1981.0" cy="406.2" r="11.95"/><circle cx="1982.6" cy="402.8" r="11.95"/><circle cx="1984.4" cy="404.1" r="11.95"/><circle cx="1986.5" cy="405.1" r="11.95"/><circle cx="1989.0" cy="408.5" r="11.95"/><circle cx="1991.0" cy="402.7" r="11.95"/><circle cx="1992.0" cy="408.0" r="11.95"/><circle cx="1994.2" cy="405.8" r="11.95"/><circle cx="1995.6" cy="402.9" r="11.95"/><circle cx="1997.5" cy="405.3" r="11.95"/><circle cx="1999.3" cy="405.9" r="11.95"/><circle cx="2001.4" cy="402.3" r="11.95"/><circle cx="2002.6" cy="408.7" r="11.95"/><circle cx="2005.0" cy="407.9" r="11.95"/><circle cx="2005.9" cy="401.2" r="11.95"/><circle cx="2007.1" cy="404.2" r="11.95"/><circle cx="2009.0" cy="401.5" r="11.95"/><circle cx="2010.7" cy="401.3" r="11.95"/><circle cx="2011.6" cy="406.2" r="11.95"/><circle cx="2013.4" cy="405.9" r="11.95"/><circle cx="2014.8" cy="404.6" r="11.95"/><circle cx="2016.0" cy="403.5" r="11.95"/><circle cx="2018.0" cy="407.6" r="11.95"/><circle cx="2019.0" cy="401.7" r="11.95"/><circle cx="2021.1" cy="405.8" r="11.95"/><circle cx="2023.3" cy="402.4" r="11.95"/><circle cx="2024.8" cy="402.8" r="11.95"/><circle cx="2026.9" cy="403.7" r="11.95"/><circle cx="2028.9" cy="408.8" r="11.95"/><circle cx="2030.2" cy="405.2" r="11.95"/><circle cx="2032.3" cy="408.3" r="11.95"/><circle cx="2033.8" cy="403.7" r="11.95"/><circle cx="2034.8" cy="407.9" r="11.95"/><circle cx="2035.7" cy="401.4" r="11.95"/><circle cx="2037.5" cy="404.7" r="11.95"/><circle cx="2039.4" cy="403.2" r="11.95"/><circle cx="2041.5" cy="401.3" r="11.95"/><circle cx="2042.7" cy="406.1" r="11.95"/><circle cx="2043.7" cy="403.2" r="11.95"/><circle cx="2045.7" cy="406.4" r="11.95"/><circle cx="2047.0" cy="401.9" r="11.95"/><circle cx="2048.4" cy="406.7" r="11.95"/><circle cx="2049.8" cy="401.7" r="11.95"/><circle cx="2051.8" cy="405.4" r="11.95"/><circle cx="2054.2" cy="408.4" r="11.95"/><circle cx="2056.5" cy="404.3" r="11.95"/><circle cx="2058.7" cy="403.2" r="11.95"/><circle cx="2060.0" cy="404.0" r="11.95"/><circle cx="2062.4" cy="408.0" r="11.95"/><circle cx="2063.6" cy="403.7" r="11.95"/><circle cx="2065.1" cy="403.7" r="11.95"/><circle cx="2066.5" cy="403.9" r="11.95"/><circle cx="2067.7" cy="405.3" r="11.95"/><circle cx="2069.8" cy="405.1" r="11.95"/><circle cx="2072.0" cy="405.3" r="11.95"/><circle cx="2073.1" cy="406.9" r="11.95"/><circle cx="2075.4" cy="403.0" r="11.95"/><circle cx="2076.3" cy="404.9" r="11.95"/><circle cx="2078.0" cy="405.4" r="11.95"/><circle cx="2080.4" cy="406.0" r="11.95"/><circle cx="2082.6" cy="401.2" r="11.95"/><circle cx="2084.3" cy="407.2" r="11.95"/><circle cx="2085.3" cy="401.4" r="11.95"/><circle cx="2087.3" cy="408.1" r="11.95"/><circle cx="2088.3" cy="405.9" r="11.95"/><circle cx="2089.3" cy="406.8" r="11.95"/><circle cx="2091.2" cy="402.7" r="11.95"/><circle cx="2092.4" cy="407.0" r="11.95"/><circle cx="2094.1" cy="407.0" r="11.95"/><circle cx="2095.6" cy="403.5" r="11.95"/><circle cx="2098.0" cy="406.2" r="11.95"/><circle cx="2099.6" cy="405.1" r="11.95"/><circle cx="2101.7" cy="406.5" r="11.95"/><circle cx="2104.0" cy="404.1" r="11.95"/><circle cx="2106.2" cy="406.2" r="11.95"/><circle cx="2108.5" cy="407.3" r="11.95"/><circle cx="2110.7" cy="408.0" r="11.95"/><circle cx="2113.1" cy="406.0" r="11.95"/><circle cx="2114.8" cy="406.5" r="11.95"/><circle cx="2117.0" cy="404.2" r="11.95"/><circle cx="2118.5" cy="401.9" r="11.95"/><circle cx="2120.6" cy="408.8" r="11.95"/><circle cx="2122.0" cy="402.1" r="11.95"/><circle cx="2123.1" cy="404.2" r="11.95"/><circle cx="2124.4" cy="408.7" r="11.95"/><circle cx="2125.3" cy="403.2" r="11.95"/><circle cx="2126.3" cy="406.0" r="11.95"/><circle cx="2128.4" cy="402.2" r="11.95"/><circle cx="2129.4" cy="404.5" r="11.95"/><circle cx="2131.1" cy="408.2" r="11.95"/><circle cx="2132.0" cy="401.6" r="11.95"/><circle cx="2133.1" cy="402.5" r="11.95"/><circle cx="2134.3" cy="406.6" r="11.95"/><circle cx="2136.1" cy="402.5" r="11.95"/><circle cx="2137.2" cy="403.0" r="11.95"/><circle cx="2138.3" cy="406.9" r="11.95"/><circle cx="2139.7" cy="405.2" r="11.95"/><circle cx="2141.9" cy="404.6" r="11.95"/><circle cx="2143.1" cy="408.0" r="11.95"/><circle cx="2145.5" cy="403.5" r="11.95"/><circle cx="2147.2" cy="408.5" r="11.95"/><circle cx="2148.8" cy="402.5" r="11.95"/><circle cx="2149.7" cy="408.5" r="11.95"/><circle cx="2151.9" cy="403.9" r="11.95"/><circle cx="2153.6" cy="404.9" r="11.95"/><circle cx="2154.8" cy="408.8" r="11.95"/><circle cx="2156.7" cy="402.6" r="11.95"/><circle cx="2157.6" cy="404.6" r="11.95"/><circle cx="2159.0" cy="407.2" r="11.95"/><circle cx="2161.0" cy="405.7" r="11.95"/><circle cx="2162.1" cy="402.0" r="11.95"/><circle cx="2163.4" cy="402.8" r="11.95"/><circle cx="2165.7" cy="404.9" r="11.95"/><circle cx="2167.6" cy="408.8" r="11.95"/><circle cx="2168.8" cy="405.1" r="11.95"/><circle cx="2169.9" cy="407.0" r="11.95"/><circle cx="2170.7" cy="407.4" r="11.95"/><circle cx="2172.9" cy="407.4" r="11.95"/><circle cx="2173.9" cy="402.9" r="11.95"/><circle cx="2175.9" cy="401.5" r="11.95"/><circle cx="2177.5" cy="404.5" r="11.95"/><circle cx="2179.9" cy="405.5" r="11.95"/><circle cx="2182.2" cy="403.2" r="11.95"/><circle cx="2184.3" cy="404.1" r="11.95"/><circle cx="2186.7" cy="401.4" r="11.95"/><circle cx="2188.9" cy="402.4" r="11.95"/><circle cx="2190.6" cy="405.0" r="11.95"/><circle cx="2191.7" cy="407.5" r="11.95"/><circle cx="2193.0" cy="403.2" r="11.95"/><circle cx="2193.9" cy="403.2" r="11.95"/><circle cx="2195.5" cy="406.6" r="11.95"/><circle cx="2196.9" cy="406.3" r="11.95"/><circle cx="2197.9" cy="403.9" r="11.95"/><circle cx="2199.5" cy="408.6" r="11.95"/><circle cx="2201.7" cy="406.1" r="11.95"/><circle cx="2202.5" cy="403.8" r="11.95"/><circle cx="2204.5" cy="402.6" r="11.95"/><circle cx="2206.3" cy="404.5" r="11.95"/><circle cx="2207.1" cy="408.8" r="11.95"/><circle cx="2209.3" cy="402.4" r="11.95"/><circle cx="2211.1" cy="403.1" r="11.95"/><circle cx="2212.6" cy="405.1" r="11.95"/><circle cx="2213.9" cy="403.5" r="11.95"/><circle cx="2215.3" cy="406.2" r="11.95"/><circle cx="2216.6" cy="402.3" r="11.95"/><circle cx="2218.6" cy="403.4" r="11.95"/><circle cx="2221.0" cy="405.3" r="11.95"/><circle cx="2223.1" cy="403.4" r="11.95"/><circle cx="2225.3" cy="401.5" r="11.95"/><circle cx="2226.3" cy="401.5" r="11.95"/><circle cx="2228.3" cy="406.5" r="11.95"/><circle cx="2229.4" cy="404.0" r="11.95"/><circle cx="2231.6" cy="405.6" r="11.95"/><circle cx="2232.5" cy="402.6" r="11.95"/><circle cx="2233.6" cy="401.7" r="11.95"/><circle cx="2235.1" cy="401.3" r="11.95"/><circle cx="2237.5" cy="404.2" r="11.95"/><circle cx="2239.1" cy="406.0" r="11.95"/><circle cx="2241.2" cy="407.4" r="11.95"/><circle cx="2242.7" cy="403.4" r="11.95"/><circle cx="2244.2" cy="400.8" r="11.95"/><circle cx="2245.7" cy="406.4" r="11.95"/><circle cx="2248.1" cy="407.2" r="11.95"/><circle cx="2250.1" cy="405.7" r="11.95"/><circle cx="2250.9" cy="403.4" r="11.95"/><circle cx="2252.3" cy="406.0" r="11.95"/><circle cx="2253.3" cy="403.8" r="11.95"/><circle cx="2254.9" cy="407.2" r="11.95"/><circle cx="2257.1" cy="405.7" r="11.95"/><circle cx="2258.2" cy="407.0" r="11.95"/><circle cx="2260.5" cy="405.2" r="11.95"/><circle cx="2261.9" cy="404.8" r="11.95"/><circle cx="2263.0" cy="406.6" r="11.95"/><circle cx="2265.4" cy="404.9" r="11.95"/><circle cx="2267.5" cy="407.6" r="11.95"/><circle cx="2268.6" cy="408.4" r="11.95"/><circle cx="2270.5" cy="402.3" r="11.95"/><circle cx="2271.4" cy="402.7" r="11.95"/><circle cx="2273.2" cy="406.4" r="11.95"/><circle cx="2274.5" cy="408.3" r="11.95"/><circle cx="2276.0" cy="404.5" r="11.95"/><circle cx="2277.0" cy="408.7" r="11.95"/><circle cx="2278.0" cy="408.1" r="11.95"/><circle cx="2279.7" cy="405.3" r="11.95"/><circle cx="2281.5" cy="402.9" r="11.95"/><circle cx="2283.8" cy="408.8" r="11.95"/><circle cx="2286.0" cy="405.6" r="11.95"/><circle cx="2287.0" cy="407.5" r="11.95"/><circle cx="2288.3" cy="408.1" r="11.95"/><circle cx="2289.5" cy="405.4" r="11.95"/><circle cx="2291.7" cy="402.2" r="11.95"/><circle cx="2293.5" cy="401.3" r="11.95"/><circle cx="2294.3" cy="402.2" r="11.95"/><circle cx="2296.8" cy="408.4" r="11.95"/><circle cx="2298.7" cy="403.2" r="11.95"/><circle cx="2300.7" cy="406.7" r="11.95"/><circle cx="2302.1" cy="405.6" r="11.95"/><circle cx="2304.3" cy="400.8" r="11.95"/><circle cx="2305.4" cy="404.5" r="11.95"/><circle cx="2306.5" cy="403.9" r="11.95"/><circle cx="2308.2" cy="402.1" r="11.95"/><circle cx="2309.9" cy="402.9" r="11.95"/><circle cx="2311.7" cy="403.4" r="11.95"/><circle cx="2313.6" cy="401.0" r="11.95"/><circle cx="2315.5" cy="401.9" r="11.95"/><circle cx="2317.9" cy="405.6" r="11.95"/><circle cx="2319.5" cy="404.1" r="11.95"/><circle cx="2321.4" cy="406.4" r="11.95"/><circle cx="2323.5" cy="406.9" r="11.95"/><circle cx="2325.1" cy="408.9" r="11.95"/><circle cx="2327.3" cy="407.7" r="11.95"/><circle cx="2328.8" cy="404.3" r="11.95"/><circle cx="2330.6" cy="408.1" r="11.95"/><circle cx="2332.3" cy="405.0" r="11.95"/><circle cx="2333.8" cy="408.1" r="11.95"/><circle cx="2335.2" cy="401.1" r="11.95"/><circle cx="2337.2" cy="408.1" r="11.95"/><circle cx="2339.2" cy="405.6" r="11.95"/><circle cx="2341.3" cy="403.2" r="11.95"/><circle cx="2343.1" cy="401.3" r="11.95"/><circle cx="2344.1" cy="404.4" r="11.95"/><circle cx="2345.8" cy="404.0" r="11.95"/><circle cx="2346.7" cy="406.4" r="11.95"/><circle cx="2348.4" cy="402.7" r="11.95"/><circle cx="2349.7" cy="403.9" r="11.95"/><circle cx="2350.9" cy="401.3" r="11.95"/><circle cx="2353.3" cy="408.6" r="11.95"/><circle cx="2355.2" cy="407.8" r="11.95"/><circle cx="2356.7" cy="407.3" r="11.95"/><circle cx="2357.9" cy="406.8" r="11.95"/><circle cx="2359.6" cy="408.1" r="11.95"/><circle cx="2360.6" cy="407.2" r="11.95"/><circle cx="2361.6" cy="405.1" r="11.95"/><circle cx="2364.0" cy="400.7" r="11.95"/><circle cx="2365.3" cy="403.2" r="11.95"/><circle cx="2366.6" cy="401.2" r="11.95"/><circle cx="2368.9" cy="407.4" r="11.95"/><circle cx="2370.4" cy="403.6" r="11.95"/><circle cx="2372.2" cy="401.1" r="11.95"/><circle cx="2373.0" cy="408.1" r="11.95"/><circle cx="2374.4" cy="404.8" r="11.95"/><circle cx="2376.8" cy="408.7" r="11.95"/><circle cx="2378.4" cy="402.4" r="11.95"/><circle cx="2379.7" cy="408.3" r="11.95"/><circle cx="2382.0" cy="402.3" r="11.95"/><circle cx="2384.2" cy="403.6" r="11.95"/><circle cx="2385.8" cy="402.1" r="11.95"/><circle cx="2388.1" cy="408.9" r="11.95"/><circle cx="2389.3" cy="405.9" r="11.95"/><circle cx="2390.4" cy="407.9" r="11.95"/><circle cx="2391.3" cy="401.6" r="11.95"/><circle cx="2393.3" cy="403.3" r="11.95"/><circle cx="2395.6" cy="407.8" r="11.95"/><circle cx="2397.6" cy="401.8" r="11.95"/><circle cx="2399.6" cy="408.4" r="11.95"/><circle cx="2401.2" cy="401.3" r="11.95"/><circle cx="2402.4" cy="403.2" r="11.95"/><circle cx="2404.4" cy="402.3" r="11.95"/><circle cx="2405.5" cy="402.6" r="11.95"/><circle cx="2409.7" cy="406.8" r="11.95"/><circle cx="2417.3" cy="406.2" r="11.95"/><circle cx="2428.5" cy="405.9" r="11.95"/><circle cx="2435.1" cy="404.6" r="11.95"/><circle cx="2446.5" cy="406.2" r="11.95"/><circle cx="2453.5" cy="406.1" r="11.95"/><circle cx="2459.1" cy="407.6" r="11.95"/><circle cx="2467.2" cy="405.6" r="11.95"/><circle cx="2475.9" cy="403.5" r="11.95"/><circle cx="2465.9" cy="405.6" r="11.95"/><circle cx="2481.4" cy="407.1" r="11.95"/><circle cx="2511.7" cy="402.9" r="11.95"/><circle cx="2557.1" cy="397.8" r="11.95"/><circle cx="2586.3" cy="397.0" r="11.95"/><circle cx="2693.0" cy="398.6" r="11.95"/><circle cx="2736.9" cy="400.2" r="11.95"/><circle cx="2752.0" cy="397.8" r="11.95"/><circle cx="2789.3" cy="402.1" r="11.95"/><circle cx="2906.1" cy="407.5" r="11.95"/><circle cx="2448.4" cy="401.7" r="11.95"/><circle cx="2471.7" cy="401.7" r="11.95"/><circle cx="632.9" cy="1393.6" r="11.95"/><circle cx="652.3" cy="1389.8" r="11.95"/><circle cx="667.9" cy="1391.7" r="11.95"/><circle cx="648.4" cy="1405.3" r="11.95"/><circle cx="671.7" cy="1416.2" r="11.95"/><circle cx="616.6" cy="1422.4" r="11.95"/><circle cx="653.5" cy="1429.4" r="11.95"/><circle cx="630.6" cy="1440.2" r="11.95"/><circle cx="642.6" cy="1446.1" r="11.95"/><circle cx="652.3" cy="1438.3" r="11.95"/><circle cx="667.1" cy="1455.0" r="11.95"/><circle cx="636.0" cy="1460.8" r="11.95"/><circle cx="654.3" cy="1468.2" r="11.95"/><circle cx="707.5" cy="1392.9" r="11.95"/><circle cx="834.8" cy="1397.5" r="11.95"/><circle cx="842.5" cy="1406.1" r="11.95"/><circle cx="853.4" cy="1412.3" r="11.95"/><circle cx="895.7" cy="1419.3" r="11.95"/><circle cx="583.6" cy="1474.4" r="11.95"/><circle cx="778.9" cy="1465.9" r="11.95"/><circle cx="790.9" cy="1465.1" r="11.95"/><circle cx="647.3" cy="1496.5" r="11.95"/><circle cx="602.6" cy="1508.9" r="11.95"/><circle cx="580.5" cy="1517.9" r="11.95"/><circle cx="613.5" cy="1544.3" r="11.95"/><circle cx="703.6" cy="1556.7" r="11.95"/><circle cx="786.3" cy="1559.0" r="11.95"/><circle cx="804.5" cy="1568.3" r="11.95"/><circle cx="670.6" cy="1568.3" r="11.95"/><circle cx="660.1" cy="1578.0" r="11.95"/><circle cx="644.6" cy="1585.4" r="11.95"/><circle cx="558.0" cy="1571.8" r="11.95"/><circle cx="837.9" cy="1587.7" r="11.95"/><circle cx="819.6" cy="1595.5" r="11.95"/><circle cx="537.8" cy="1614.1" r="11.95"/><circle cx="619.3" cy="1620.4" r="11.95"/><circle cx="679.5" cy="1617.2" r="11.95"/><circle cx="540.5" cy="1640.2" r="11.95"/><circle cx="596.8" cy="1656.8" r="11.95"/><circle cx="621.3" cy="1654.5" r="11.95"/><circle cx="657.4" cy="1651.8" r="11.95"/><circle cx="578.6" cy="1675.1" r="11.95"/><circle cx="750.5" cy="1685.6" r="11.95"/><circle cx="755.6" cy="1698.4" r="11.95"/><circle cx="591.0" cy="1693.7" r="11.95"/><circle cx="563.8" cy="1708.9" r="11.95"/><circle cx="581.7" cy="1712.7" r="11.95"/><circle cx="572.7" cy="1721.7" r="11.95"/><circle cx="582.5" cy="1727.5" r="11.95"/><circle cx="578.6" cy="1736.0" r="11.95"/><circle cx="656.2" cy="1715.1" r="11.95"/><circle cx="695.0" cy="1722.8" r="11.95"/><circle cx="686.5" cy="1731.4" r="11.95"/><circle cx="555.3" cy="1742.2" r="11.95"/><circle cx="596.0" cy="1747.7" r="11.95"/><circle cx="605.7" cy="1756.6" r="11.95"/><circle cx="568.9" cy="1757.8" r="11.95"/><circle cx="682.6" cy="1754.7" r="11.95"/><circle cx="718.3" cy="1758.6" r="11.95"/><circle cx="543.6" cy="1767.1" r="11.95"/><circle cx="627.1" cy="1767.5" r="11.95"/><circle cx="673.7" cy="1766.3" r="11.95"/><circle cx="526.2" cy="1777.2" r="11.95"/><circle cx="596.0" cy="1769.4" r="11.95"/><circle cx="660.1" cy="1771.4" r="11.95"/><circle cx="561.1" cy="1779.9" r="11.95"/><circle cx="578.6" cy="1774.1" r="11.95"/><circle cx="642.6" cy="1776.0" r="11.95"/><circle cx="1017.2" cy="1703.0" r="11.95"/><circle cx="1162.8" cy="1745.4" r="11.95"/><circle cx="1346.0" cy="1755.8" r="11.95"/><circle cx="506.8" cy="1787.7" r="11.95"/><circle cx="516.5" cy="1783.8" r="11.95"/><circle cx="698.9" cy="1779.9" r="11.95"/><circle cx="708.6" cy="1783.8" r="11.95"/><circle cx="609.6" cy="1781.8" r="11.95"/><circle cx="617.4" cy="1770.2" r="11.95"/><circle cx="500.5" cy="1794.2" r="11.95"/><circle cx="507.2" cy="1795.1" r="11.95"/><circle cx="514.9" cy="1794.8" r="11.95"/><circle cx="522.5" cy="1791.2" r="11.95"/><circle cx="527.9" cy="1795.8" r="11.95"/><circle cx="534.1" cy="1795.6" r="11.95"/><circle cx="537.7" cy="1793.4" r="11.95"/><circle cx="541.9" cy="1793.8" r="11.95"/><circle cx="547.8" cy="1791.2" r="11.95"/><circle cx="551.9" cy="1792.5" r="11.95"/><circle cx="559.4" cy="1794.9" r="11.95"/><circle cx="563.2" cy="1795.1" r="11.95"/><circle cx="566.9" cy="1794.2" r="11.95"/><circle cx="570.6" cy="1791.1" r="11.95"/><circle cx="577.9" cy="1792.1" r="11.95"/><circle cx="582.0" cy="1796.0" r="11.95"/><circle cx="589.4" cy="1792.5" r="11.95"/><circle cx="597.2" cy="1793.8" r="11.95"/><circle cx="603.6" cy="1792.1" r="11.95"/><circle cx="611.3" cy="1794.6" r="11.95"/><circle cx="619.1" cy="1795.6" r="11.95"/><circle cx="623.6" cy="1792.9" r="11.95"/><circle cx="627.4" cy="1791.8" r="11.95"/><circle cx="630.7" cy="1792.6" r="11.95"/><circle cx="636.8" cy="1791.1" r="11.95"/><circle cx="643.2" cy="1792.8" r="11.95"/><circle cx="647.7" cy="1795.2" r="11.95"/><circle cx="653.1" cy="1792.7" r="11.95"/><circle cx="658.5" cy="1794.6" r="11.95"/><circle cx="661.8" cy="1796.0" r="11.95"/><circle cx="664.9" cy="1794.8" r="11.95"/><circle cx="672.1" cy="1791.2" r="11.95"/><circle cx="679.1" cy="1792.9" r="11.95"/><circle cx="685.0" cy="1791.1" r="11.95"/><circle cx="688.2" cy="1792.0" r="11.95"/><circle cx="696.0" cy="1792.1" r="11.95"/><circle cx="702.8" cy="1795.7" r="11.95"/><circle cx="710.5" cy="1792.8" r="11.95"/><circle cx="715.2" cy="1793.7" r="11.95"/><circle cx="722.1" cy="1791.6" r="11.95"/><circle cx="728.9" cy="1795.1" r="11.95"/><circle cx="736.2" cy="1791.3" r="11.95"/><circle cx="743.9" cy="1791.6" r="11.95"/><circle cx="748.6" cy="1794.2" r="11.95"/><circle cx="756.2" cy="1792.8" r="11.95"/><circle cx="763.8" cy="1793.8" r="11.95"/><circle cx="768.4" cy="1792.7" r="11.95"/><circle cx="772.2" cy="1791.5" r="11.95"/><circle cx="776.0" cy="1794.5" r="11.95"/><circle cx="784.0" cy="1791.9" r="11.95"/><circle cx="787.2" cy="1796.0" r="11.95"/><circle cx="792.9" cy="1793.1" r="11.95"/><circle cx="797.1" cy="1794.1" r="11.95"/><circle cx="804.2" cy="1793.4" r="11.95"/><circle cx="809.3" cy="1791.4" r="11.95"/><circle cx="816.9" cy="1791.3" r="11.95"/><circle cx="822.4" cy="1795.3" r="11.95"/><circle cx="826.0" cy="1794.8" r="11.95"/><circle cx="833.8" cy="1794.3" r="11.95"/><circle cx="840.7" cy="1791.6" r="11.95"/><circle cx="845.9" cy="1791.8" r="11.95"/><circle cx="853.1" cy="1792.6" r="11.95"/><circle cx="858.4" cy="1796.1" r="11.95"/><circle cx="865.6" cy="1796.0" r="11.95"/><circle cx="870.9" cy="1793.5" r="11.95"/><circle cx="877.5" cy="1793.5" r="11.95"/><circle cx="882.0" cy="1793.1" r="11.95"/><circle cx="885.7" cy="1793.0" r="11.95"/><circle cx="893.7" cy="1795.9" r="11.95"/><circle cx="899.8" cy="1793.6" r="11.95"/><circle cx="904.5" cy="1791.5" r="11.95"/><circle cx="908.9" cy="1795.0" r="11.95"/><circle cx="916.2" cy="1792.9" r="11.95"/><circle cx="923.1" cy="1795.0" r="11.95"/><circle cx="929.6" cy="1794.4" r="11.95"/><circle cx="936.4" cy="1792.9" r="11.95"/><circle cx="942.9" cy="1792.5" r="11.95"/><circle cx="948.4" cy="1794.9" r="11.95"/><circle cx="954.8" cy="1792.6" r="11.95"/><circle cx="962.5" cy="1794.3" r="11.95"/><circle cx="968.4" cy="1791.2" r="11.95"/><circle cx="974.2" cy="1792.4" r="11.95"/><circle cx="1010.0" cy="1793.4" r="11.95"/><circle cx="1017.1" cy="1794.3" r="11.95"/><circle cx="1024.1" cy="1792.8" r="11.95"/><circle cx="1030.3" cy="1794.8" r="11.95"/><circle cx="1037.4" cy="1792.9" r="11.95"/><circle cx="1044.6" cy="1795.4" r="11.95"/><circle cx="1051.1" cy="1796.0" r="11.95"/><circle cx="1058.9" cy="1793.7" r="11.95"/><circle cx="1064.5" cy="1791.9" r="11.95"/><circle cx="1071.7" cy="1795.8" r="11.95"/><circle cx="1077.1" cy="1794.6" r="11.95"/><circle cx="1083.7" cy="1794.8" r="11.95"/><circle cx="1087.5" cy="1795.0" r="11.95"/><circle cx="1093.4" cy="1794.4" r="11.95"/><circle cx="1098.6" cy="1794.2" r="11.95"/><circle cx="1105.4" cy="1794.3" r="11.95"/><circle cx="1112.0" cy="1791.2" r="11.95"/><circle cx="1115.8" cy="1793.3" r="11.95"/><circle cx="1122.1" cy="1792.2" r="11.95"/><circle cx="1128.5" cy="1794.3" r="11.95"/><circle cx="1131.7" cy="1793.5" r="11.95"/><circle cx="1135.8" cy="1791.4" r="11.95"/><circle cx="1139.5" cy="1792.7" r="11.95"/><circle cx="1143.4" cy="1792.1" r="11.95"/><circle cx="1146.6" cy="1793.4" r="11.95"/><circle cx="1151.5" cy="1794.2" r="11.95"/><circle cx="1157.5" cy="1792.3" r="11.95"/><circle cx="1165.0" cy="1791.1" r="11.95"/><circle cx="1170.0" cy="1792.5" r="11.95"/><circle cx="1175.0" cy="1791.7" r="11.95"/><circle cx="1182.2" cy="1793.0" r="11.95"/><circle cx="1185.4" cy="1794.2" r="11.95"/><circle cx="1188.9" cy="1793.8" r="11.95"/><circle cx="1193.6" cy="1794.0" r="11.95"/><circle cx="1201.3" cy="1795.2" r="11.95"/><circle cx="1206.4" cy="1795.2" r="11.95"/><circle cx="1212.7" cy="1792.9" r="11.95"/><circle cx="1216.4" cy="1794.1" r="11.95"/><circle cx="1222.2" cy="1795.9" r="11.95"/><circle cx="1230.0" cy="1794.1" r="11.95"/><circle cx="1234.8" cy="1795.6" r="11.95"/><circle cx="1237.8" cy="1791.6" r="11.95"/><circle cx="1243.6" cy="1794.2" r="11.95"/><circle cx="1247.3" cy="1794.2" r="11.95"/><circle cx="1254.8" cy="1793.0" r="11.95"/><circle cx="1259.9" cy="1792.2" r="11.95"/><circle cx="1264.4" cy="1796.0" r="11.95"/><circle cx="1269.3" cy="1795.9" r="11.95"/><circle cx="1276.9" cy="1794.1" r="11.95"/><circle cx="1281.2" cy="1796.0" r="11.95"/><circle cx="1286.6" cy="1793.2" r="11.95"/><circle cx="1291.2" cy="1796.0" r="11.95"/><circle cx="1296.7" cy="1792.5" r="11.95"/><circle cx="1302.1" cy="1791.7" r="11.95"/><circle cx="1308.2" cy="1793.3" r="11.95"/><circle cx="1312.7" cy="1795.0" r="11.95"/><circle cx="1319.8" cy="1791.2" r="11.95"/><circle cx="1325.4" cy="1792.5" r="11.95"/><circle cx="1333.1" cy="1795.0" r="11.95"/><circle cx="1337.4" cy="1792.4" r="11.95"/><circle cx="1341.1" cy="1796.0" r="11.95"/><circle cx="1345.6" cy="1794.1" r="11.95"/><circle cx="1351.0" cy="1794.3" r="11.95"/><circle cx="1357.0" cy="1794.8" r="11.95"/><circle cx="1360.6" cy="1794.9" r="11.95"/><circle cx="1365.1" cy="1793.8" r="11.95"/><circle cx="1369.8" cy="1792.6" r="11.95"/><circle cx="1375.4" cy="1793.4" r="11.95"/><circle cx="1380.2" cy="1794.8" r="11.95"/><circle cx="1386.2" cy="1791.3" r="11.95"/><circle cx="1390.4" cy="1793.4" r="11.95"/><circle cx="1398.0" cy="1795.5" r="11.95"/><circle cx="1403.7" cy="1791.2" r="11.95"/><circle cx="1410.6" cy="1793.2" r="11.95"/><circle cx="1416.5" cy="1794.6" r="11.95"/><circle cx="1422.7" cy="1793.5" r="11.95"/><circle cx="1430.2" cy="1793.0" r="11.95"/><circle cx="1435.2" cy="1795.4" r="11.95"/><circle cx="731.8" cy="1782.4" r="11.95"/><circle cx="737.3" cy="1782.8" r="11.95"/><circle cx="745.9" cy="1781.2" r="11.95"/><circle cx="750.1" cy="1780.4" r="11.95"/><circle cx="757.1" cy="1782.0" r="11.95"/><circle cx="762.6" cy="1778.5" r="11.95"/><circle cx="772.6" cy="1781.8" r="11.95"/><circle cx="778.3" cy="1779.1" r="11.95"/><circle cx="784.9" cy="1781.6" r="11.95"/><circle cx="790.2" cy="1777.9" r="11.95"/><circle cx="798.1" cy="1780.2" r="11.95"/><circle cx="803.9" cy="1778.8" r="11.95"/><circle cx="808.8" cy="1779.2" r="11.95"/><circle cx="815.4" cy="1782.8" r="11.95"/><circle cx="825.0" cy="1782.2" r="11.95"/><circle cx="831.8" cy="1779.7" r="11.95"/><circle cx="838.4" cy="1780.3" r="11.95"/><circle cx="557.3" cy="1786.0" r="11.95"/><circle cx="568.4" cy="1786.6" r="11.95"/><circle cx="577.6" cy="1791.2" r="11.95"/><circle cx="585.3" cy="1787.7" r="11.95"/><circle cx="593.8" cy="1789.9" r="11.95"/><circle cx="603.9" cy="1786.1" r="11.95"/><circle cx="614.0" cy="1787.7" r="11.95"/><circle cx="620.6" cy="1789.3" r="11.95"/><circle cx="631.1" cy="1791.6" r="11.95"/><circle cx="639.3" cy="1789.5" r="11.95"/><circle cx="646.4" cy="1787.7" r="11.95"/><circle cx="656.1" cy="1789.7" r="11.95"/><circle cx="661.7" cy="1789.8" r="11.95"/><circle cx="666.3" cy="1789.0" r="11.95"/><circle cx="673.2" cy="1788.9" r="11.95"/><circle cx="680.3" cy="1789.8" r="11.95"/><circle cx="690.6" cy="1788.1" r="11.95"/><circle cx="699.0" cy="1789.4" r="11.95"/><circle cx="707.6" cy="1789.9" r="11.95"/><circle cx="715.0" cy="1791.8" r="11.95"/><circle cx="722.9" cy="1788.2" r="11.95"/><circle cx="860.8" cy="1778.7" r="11.95"/><circle cx="863.0" cy="1773.5" r="11.95"/><circle cx="866.6" cy="1769.4" r="11.95"/><circle cx="871.0" cy="1769.1" r="11.95"/><circle cx="873.5" cy="1769.6" r="11.95"/><circle cx="881.5" cy="1764.8" r="11.95"/><circle cx="884.8" cy="1766.1" r="11.95"/><circle cx="890.1" cy="1768.2" r="11.95"/><circle cx="894.8" cy="1763.0" r="11.95"/><circle cx="899.8" cy="1761.9" r="11.95"/><circle cx="902.7" cy="1764.5" r="11.95"/><circle cx="908.0" cy="1763.2" r="11.95"/><circle cx="911.1" cy="1760.3" r="11.95"/><circle cx="917.4" cy="1757.9" r="11.95"/><circle cx="920.0" cy="1761.0" r="11.95"/><circle cx="926.4" cy="1759.4" r="11.95"/><circle cx="930.5" cy="1762.5" r="11.95"/><circle cx="935.6" cy="1757.4" r="11.95"/><circle cx="942.6" cy="1762.8" r="11.95"/><circle cx="946.3" cy="1763.5" r="11.95"/><circle cx="952.4" cy="1757.7" r="11.95"/><circle cx="957.6" cy="1759.5" r="11.95"/><circle cx="962.2" cy="1761.6" r="11.95"/><circle cx="969.0" cy="1763.5" r="11.95"/><circle cx="974.6" cy="1761.9" r="11.95"/><circle cx="978.9" cy="1759.1" r="11.95"/><circle cx="980.9" cy="1759.7" r="11.95"/><circle cx="986.4" cy="1763.3" r="11.95"/><circle cx="988.6" cy="1760.1" r="11.95"/><circle cx="993.2" cy="1762.2" r="11.95"/><circle cx="996.9" cy="1762.9" r="11.95"/><circle cx="1001.6" cy="1762.8" r="11.95"/><circle cx="1008.9" cy="1761.2" r="11.95"/><circle cx="1015.7" cy="1755.4" r="11.95"/><circle cx="1023.0" cy="1753.7" r="11.95"/><circle cx="1029.0" cy="1755.6" r="11.95"/><circle cx="1037.1" cy="1753.9" r="11.95"/><circle cx="1045.0" cy="1752.0" r="11.95"/><circle cx="1050.9" cy="1754.0" r="11.95"/><circle cx="1055.4" cy="1754.4" r="11.95"/><circle cx="1060.6" cy="1753.6" r="11.95"/><circle cx="1064.4" cy="1751.1" r="11.95"/><circle cx="1070.6" cy="1752.9" r="11.95"/><circle cx="1078.2" cy="1752.3" r="11.95"/><circle cx="1082.0" cy="1751.0" r="11.95"/><circle cx="1094.6" cy="1751.7" r="11.95"/><circle cx="1099.2" cy="1752.1" r="11.95"/><circle cx="1103.1" cy="1749.1" r="11.95"/><circle cx="1107.6" cy="1751.3" r="11.95"/><circle cx="1114.8" cy="1750.9" r="11.95"/><circle cx="1124.1" cy="1751.3" r="11.95"/><circle cx="1128.8" cy="1750.3" r="11.95"/><circle cx="1135.4" cy="1751.1" r="11.95"/><circle cx="891.8" cy="1779.3" r="11.95"/><circle cx="901.9" cy="1781.3" r="11.95"/><circle cx="911.9" cy="1781.7" r="11.95"/><circle cx="922.0" cy="1782.9" r="11.95"/><circle cx="929.1" cy="1784.5" r="11.95"/><circle cx="887.7" cy="1771.2" r="11.95"/><circle cx="897.8" cy="1773.2" r="11.95"/><circle cx="1065.8" cy="1781.8" r="11.95"/><circle cx="1105.4" cy="1781.8" r="11.95"/><circle cx="1129.8" cy="1786.1" r="11.95"/><circle cx="1195.8" cy="1778.0" r="11.95"/><circle cx="1232.7" cy="1786.5" r="11.95"/><circle cx="1244.3" cy="1786.5" r="11.95"/><circle cx="1303.7" cy="1785.7" r="11.95"/><circle cx="1346.6" cy="1756.2" r="11.95"/><circle cx="1576.4" cy="1759.3" r="11.95"/><circle cx="1609.4" cy="1790.0" r="11.95"/><circle cx="2161.4" cy="1768.6" r="11.95"/><circle cx="2194.8" cy="1777.6" r="11.95"/><circle cx="2227.0" cy="1766.3" r="11.95"/><circle cx="2238.7" cy="1781.4" r="11.95"/><circle cx="2279.0" cy="1781.4" r="11.95"/><circle cx="2291.8" cy="1767.9" r="11.95"/><circle cx="1440.5" cy="1789.2" r="11.95"/><circle cx="1457.2" cy="1793.1" r="11.95"/><circle cx="1466.9" cy="1793.1" r="11.95"/><circle cx="1498.0" cy="1794.3" r="11.95"/><circle cx="1503.8" cy="1791.1" r="11.95"/><circle cx="1525.2" cy="1795.0" r="11.95"/><circle cx="1531.0" cy="1793.9" r="11.95"/><circle cx="1544.6" cy="1793.9" r="11.95"/><circle cx="1556.2" cy="1791.9" r="11.95"/><circle cx="2161.3" cy="1768.6" r="11.95"/><circle cx="2195.1" cy="1777.6" r="11.95"/><circle cx="2227.3" cy="1765.9" r="11.95"/><circle cx="2239.0" cy="1781.8" r="11.95"/><circle cx="2279.3" cy="1781.4" r="11.95"/><circle cx="2292.2" cy="1766.3" r="11.95"/><circle cx="2304.6" cy="1758.2" r="11.95"/><circle cx="2325.2" cy="1759.3" r="11.95"/><circle cx="2307.7" cy="1780.7" r="11.95"/><circle cx="2322.0" cy="1782.2" r="11.95"/><circle cx="2353.1" cy="1759.3" r="11.95"/><circle cx="2365.9" cy="1760.1" r="11.95"/><circle cx="2402.8" cy="1751.2" r="11.95"/><circle cx="2397.0" cy="1765.9" r="11.95"/><circle cx="2400.1" cy="1774.5" r="11.95"/><circle cx="2428.0" cy="1768.6" r="11.95"/><circle cx="2439.7" cy="1767.9" r="11.95"/><circle cx="2489.0" cy="1774.1" r="11.95"/><circle cx="2503.7" cy="1787.3" r="11.95"/><circle cx="2521.2" cy="1742.2" r="11.95"/><circle cx="2582.1" cy="1745.0" r="11.95"/><circle cx="2568.9" cy="1778.3" r="11.95"/><circle cx="2588.4" cy="1785.3" r="11.95"/><circle cx="2637.7" cy="1786.9" r="11.95"/><circle cx="2661.7" cy="1628.9" r="11.95"/><circle cx="2773.1" cy="1620.0" r="11.95"/><circle cx="2896.6" cy="1611.8" r="11.95"/><circle cx="2976.9" cy="1605.2" r="11.95"/><circle cx="2886.5" cy="1748.8" r="11.95"/><circle cx="2888.0" cy="1767.9" r="11.95"/><circle cx="2763.0" cy="1771.7" r="11.95"/><circle cx="2756.1" cy="1786.5" r="11.95"/><circle cx="2766.9" cy="1786.5" r="11.95"/><circle cx="2785.2" cy="1786.5" r="11.95"/><circle cx="2804.6" cy="1785.3" r="11.95"/><circle cx="2827.9" cy="1782.6" r="11.95"/><circle cx="2834.9" cy="1787.3" r="11.95"/><circle cx="2845.3" cy="1785.3" r="11.95"/><circle cx="2855.0" cy="1783.4" r="11.95"/><circle cx="2864.8" cy="1785.3" r="11.95"/><circle cx="2872.5" cy="1779.5" r="11.95"/><circle cx="2895.0" cy="1786.5" r="11.95"/><circle cx="2917.2" cy="1786.5" r="11.95"/><circle cx="2926.1" cy="1784.5" r="11.95"/><circle cx="2962.6" cy="1786.5" r="11.95"/><circle cx="2980.4" cy="1784.5" r="11.95"/><circle cx="2994.8" cy="1786.5" r="11.95"/><circle cx="3020.0" cy="1782.6" r="11.95"/><circle cx="3028.6" cy="1783.4" r="11.95"/><circle cx="3062.0" cy="1785.7" r="11.95"/><circle cx="3074.4" cy="1785.7" r="11.95"/><circle cx="3084.1" cy="1785.3" r="11.95"/><circle cx="3095.7" cy="1783.4" r="11.95"/><circle cx="3123.4" cy="1593.9" r="11.95"/><circle cx="3134.7" cy="1599.0" r="11.95"/><circle cx="3271.4" cy="1713.1" r="11.95"/><circle cx="3019.4" cy="1782.6" r="11.95"/><circle cx="3028.0" cy="1783.8" r="11.95"/><circle cx="3062.9" cy="1785.3" r="11.95"/><circle cx="3073.8" cy="1784.5" r="11.95"/><circle cx="3083.5" cy="1784.5" r="11.95"/><circle cx="3093.2" cy="1781.4" r="11.95"/><circle cx="3104.8" cy="1783.4" r="11.95"/><circle cx="3104.0" cy="1779.5" r="11.95"/><circle cx="3120.3" cy="1780.3" r="11.95"/><circle cx="3123.4" cy="1784.5" r="11.95"/><circle cx="3135.9" cy="1778.7" r="11.95"/><circle cx="3147.5" cy="1786.5" r="11.95"/><circle cx="3155.3" cy="1779.5" r="11.95"/><circle cx="3174.7" cy="1784.5" r="11.95"/><circle cx="3187.1" cy="1782.6" r="11.95"/><circle cx="3205.7" cy="1785.3" r="11.95"/><circle cx="3217.4" cy="1778.7" r="11.95"/><circle cx="3225.2" cy="1782.6" r="11.95"/><circle cx="3234.9" cy="1785.3" r="11.95"/><circle cx="3240.7" cy="1781.4" r="11.95"/><circle cx="3248.4" cy="1782.6" r="11.95"/><circle cx="3258.2" cy="1784.5" r="11.95"/><circle cx="3260.9" cy="1779.5" r="11.95"/><circle cx="3271.7" cy="1782.6" r="11.95"/><circle cx="3285.3" cy="1781.4" r="11.95"/><circle cx="3308.6" cy="1781.4" r="11.95"/><circle cx="3322.2" cy="1784.5" r="11.95"/><circle cx="3333.1" cy="1780.3" r="11.95"/><circle cx="3344.7" cy="1783.4" r="11.95"/><circle cx="3359.1" cy="1783.4" r="11.95"/><circle cx="3363.0" cy="1778.7" r="11.95"/><circle cx="3387.0" cy="1775.6" r="11.95"/><circle cx="3405.7" cy="1781.4" r="11.95"/><circle cx="3408.4" cy="1777.2" r="11.95"/><circle cx="3472.8" cy="1781.4" r="11.95"/><circle cx="3475.5" cy="1777.2" r="11.95"/><circle cx="3493.8" cy="1778.7" r="11.95"/><circle cx="3513.2" cy="1777.2" r="11.95"/><circle cx="3616.8" cy="1779.9" r="11.95"/><circle cx="3665.0" cy="1778.0" r="11.95"/><circle cx="3739.5" cy="1782.2" r="11.95"/><circle cx="3814.4" cy="1778.0" r="11.95"/><circle cx="3822.2" cy="1778.0" r="11.95"/><circle cx="3853.6" cy="1779.9" r="11.95"/><circle cx="3991.8" cy="1780.7" r="11.95"/><circle cx="2769.7" cy="1055.6" r="11.95"/>
</g>
<line x1="879.2" y1="1857.5" x2="879.2" y2="123.1" stroke="#ff0000" stroke-width="5.2" stroke-dasharray="19.1 8.25"/>
<line x1="2414.5" y1="1857.5" x2="2414.5" y2="123.1" stroke="#0000ff" stroke-width="5.2" stroke-dasharray="19.1 8.25"/>
<rect x="326.25" y="36.95" width="3840.75" height="1907.6" fill="none" stroke="#000" stroke-width="2.8"/>
<g stroke="#000" stroke-width="2.8">
<line x1="496.3" y1="1944.55" x2="496.3" y2="1957.1"/><line x1="976.1" y1="1944.55" x2="976.1" y2="1957.1"/><line x1="1455.8" y1="1944.55" x2="1455.8" y2="1957.1"/><line x1="1935.6" y1="1944.55" x2="1935.6" y2="1957.1"/><line x1="2415.4" y1="1944.55" x2="2415.4" y2="1957.1"/><line x1="2895.2" y1="1944.55" x2="2895.2" y2="1957.1"/><line x1="3374.9" y1="1944.55" x2="3374.9" y2="1957.1"/><line x1="3854.7" y1="1944.55" x2="3854.7" y2="1957.1"/><line x1="326.25" y1="165.8" x2="313.6" y2="165.8"/><line x1="326.25" y1="1001.6" x2="313.6" y2="1001.6"/><line x1="326.25" y1="1837.4" x2="313.6" y2="1837.4"/>
</g>
<g font-size="69.4px">
<text x="496.3" y="2021.6" text-anchor="middle">0</text><text x="976.1" y="2021.6" text-anchor="middle">5</text><text x="1454.3" y="2021.6" text-anchor="middle" letter-spacing="-1.5">10</text><text x="1934.1" y="2021.6" text-anchor="middle" letter-spacing="-1.5">15</text><text x="2413.9" y="2021.6" text-anchor="middle" letter-spacing="-1.5">20</text><text x="2893.7" y="2021.6" text-anchor="middle" letter-spacing="-1.5">25</text><text x="3373.4" y="2021.6" text-anchor="middle" letter-spacing="-1.5">30</text><text x="3853.2" y="2021.6" text-anchor="middle" letter-spacing="-1.5">35</text><text x="301.6" y="192.9" text-anchor="end" letter-spacing="-0.4">19.5</text><text x="301.6" y="1027.9" text-anchor="end" letter-spacing="-0.4">9.5</text><text x="301.6" y="1863.5" text-anchor="end" letter-spacing="-0.4">−0.5</text>
</g>
<text x="2246.3" y="2117.2" font-size="86px" text-anchor="middle">Wind Speed [m/s]</text>
<text transform="translate(101.5 991.7) rotate(-90)" font-size="86px" text-anchor="middle">Rotor Speed [rpm]</text>
<rect x="2964.6" y="79.5" width="1159.6" height="407.8" rx="17" ry="17" fill="#fff" fill-opacity="0.8" stroke="#cccccc" stroke-opacity="0.8" stroke-width="3.4"/>
<circle cx="3085.8" cy="157.7" r="11.95" fill="#000"/>
<line x1="2999" y1="277.5" x2="3171.3" y2="277.5" stroke="#ff0000" stroke-width="5.2" stroke-dasharray="19.1 8.25"/>
<line x1="2999" y1="404.9" x2="3171.3" y2="404.9" stroke="#0000ff" stroke-width="5.2" stroke-dasharray="19.1 8.25"/>
<g font-size="86px">
<text x="3240.3" y="180.8">SCADA data</text>
<text x="3240.3" y="308.3">Cut-in wind speed</text>
<text x="3240.3" y="435.5">Cut-out wind speed</text>
</g>
</svg>
</body></html>
